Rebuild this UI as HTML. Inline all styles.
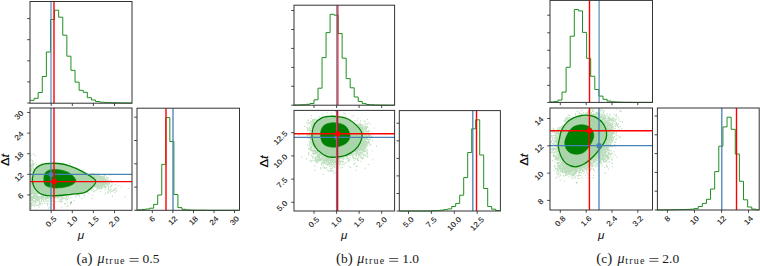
<!DOCTYPE html>
<html><head><meta charset="utf-8"><style>
html,body{margin:0;padding:0;background:#fff;width:760px;height:266px;overflow:hidden}
svg{display:block}
.tk{font-family:"Liberation Sans",sans-serif;font-size:7.6px;fill:#111;stroke:#111;stroke-width:0.08}
.ax{font-family:"Liberation Sans",sans-serif;font-size:11.6px;font-style:italic;fill:#111}
.ax2{font-family:"Liberation Sans",sans-serif;font-size:11.6px;fill:#000;stroke:#000;stroke-width:0.15}
.cap{font-family:"Liberation Serif",serif;font-size:13.5px;fill:#1a1a1a}
.mu{font-style:italic;font-size:14px}
.par{font-size:15px}
.sub{font-family:"Liberation Serif",serif;font-size:10px;letter-spacing:1.2px;fill:#1a1a1a}
</style></head><body>
<svg width="760" height="266" viewBox="0 0 760 266">
<path d="M30 100.3H34.09V98.3H38.19V92.5H42.28V76.5H46.38V52H50.47V19.5H54.56V10.2H58.66V17.2H62.75V35.2H66.85V56.2H70.94V70.3H75.03V82.1H79.13V90.3H83.22V92.3H87.32V97.7H91.41V100H95.5V101.5H99.6V102.2H103.69V102.4H107.79V102.6H111.88V102.7H115.97V102.8H120.07V102.9H124.16V102.9H128.26V103H132" stroke="#208f20" stroke-width="1.0" fill="none"/>
<line x1="51" y1="1.5" x2="51" y2="103.2" stroke="#4682b4" stroke-width="1.1"/>
<line x1="54" y1="1.5" x2="54" y2="103.2" stroke="#ff0000" stroke-width="1.4"/>
<clipPath id="ca"><rect x="30" y="108" width="102" height="102.3"/></clipPath>
<g clip-path="url(#ca)">
<path d="M31.83 178.7h0M35.68 199.43h0M32.09 197.54h0M34.59 188.71h0M56.33 198.75h0M31.12 199.96h0M37.92 198.01h0M30.8 184.63h0M68.17 196.2h0M34.58 192.68h0M41.62 162.96h0M36.44 193.06h0M52.7 196.04h0M56.93 195.96h0M74.13 200.5h0M75.55 196.94h0M31.97 191.75h0M51.51 196.57h0M31.33 182.9h0M31.71 192.23h0M32.6 189.39h0M36.91 195.28h0M70.32 194.64h0M51.07 201.48h0M37.64 196.84h0M32.31 186.38h0M31.8 183.11h0M38.68 197.23h0M69.99 163.62h0M32.28 184.98h0M45.77 198.31h0M35 189.15h0M54.17 197.48h0M36 193.32h0M47.47 196.94h0M31.07 187.15h0M31.03 185.25h0M45.55 197.34h0M36.26 190.6h0M36.19 193.53h0M40.81 203.43h0M62.2 195.99h0M32 181.32h0M48.78 198.27h0M55.27 197.45h0M47.5 196.52h0M32.21 180.04h0M33.01 192.15h0M35.55 189.92h0M30.06 192.33h0M32.22 189.19h0M32.66 183.53h0M40.98 204.94h0M31.8 181.51h0M66.19 197.25h0M31.42 184.03h0M31.51 196.73h0M35.93 193.57h0M42.87 196.99h0M34.98 191.61h0M37.65 199.54h0M40.09 193.59h0M34.97 192.05h0M67.11 206.24h0M31.31 193.18h0M38.58 192.98h0M33.71 190.23h0M43.61 195.51h0M30.8 192.66h0M39.69 198.15h0M33.9 191.24h0M35.51 199.19h0M56.94 195.87h0M61.82 196.02h0M30.06 184.66h0M35.18 192.15h0M32.91 164.86h0M52.73 200.92h0M33.19 188.93h0M31.13 187.1h0M63.51 195.61h0M37.11 193.32h0M32.96 184.46h0M31.53 193.87h0M36.7 192.27h0M45.25 203.29h0M39.31 199.87h0M41.72 195.79h0M58.09 196.88h0M65.79 203.29h0M32.97 174.59h0M61.81 199.34h0M47.89 198.4h0M32.52 193.11h0M52.8 204.89h0M31.27 200.38h0M39.2 193.41h0M37.62 192.9h0M79.8 196.97h0M32.31 192.94h0M38 196.06h0M33.33 189.5h0M71.82 197.44h0M34.1 194.13h0M56.04 197.07h0M57.77 197.62h0M32.43 185.31h0M53.23 204.34h0M61.92 197.35h0M32.08 188.23h0M60.23 195.7h0M33.74 188.67h0M65.96 197.1h0M31.05 194.76h0M36.8 193.06h0M32.55 183.13h0M33.06 186.52h0M44.37 202.06h0M60.95 202.1h0M31.86 190.05h0M48.66 207.97h0M33.81 196.29h0M56.12 197.05h0M52.28 196.05h0M35.84 193.98h0M77.73 195.25h0M37.66 193.32h0M35.78 195.53h0M32.79 165.12h0M51.52 198.55h0M49.86 207.03h0M31.05 182.85h0M45.9 200.66h0M47.9 201.11h0M58.36 201.56h0M61.24 200.97h0M58.31 197.62h0M33.41 186.17h0M44.91 195.96h0M50.26 199.04h0M31.85 180.55h0M45.48 196.2h0M66.84 198.41h0M70.79 195.31h0M32.5 192.02h0M31.82 192.93h0M31.22 169.42h0M33.02 196.63h0M32.71 160.61h0M33.95 204.32h0M34.05 187.07h0M32.01 175.96h0M31.45 191.5h0M30.06 182.94h0M30.46 182.72h0M36.24 197.38h0M31.49 179.61h0M30.65 182.01h0M32.58 190.08h0M32.39 197.87h0M30.88 183.06h0M32.86 186.81h0M31.34 185.43h0M30.82 193.88h0M32.95 202.95h0M32.02 173.55h0M31.28 183.26h0M31.39 192.03h0M31.54 203.08h0M30.61 184.67h0M30.65 198.6h0M30.48 169.77h0M31.01 175.53h0M32.24 179.4h0M30.32 184.77h0M31.68 187.65h0M34.5 206.13h0M31.85 176.27h0M31.13 182.38h0M30.32 198.03h0M33.74 194.22h0M31.5 184.66h0M31.96 189.39h0M30.23 194.76h0M31.32 184.66h0M33.84 192.69h0M30.17 173.65h0M30.9 185.65h0M32.87 164.81h0M31.38 170.85h0M32.82 199.94h0M32 179.08h0M31.74 188.33h0M30.31 173.44h0M30.26 182.21h0M30.75 181.27h0M30.51 174.23h0M33.52 195.08h0M34.25 164.38h0M31.77 192.23h0M30.96 174.58h0M32.78 184.92h0M31.48 165.54h0M30.08 184.16h0M32.15 163.3h0M34.61 192.07h0M33.21 161.83h0M30.08 168.52h0M32.49 164.91h0M31.4 194.6h0M33.61 169.74h0M30.25 185.46h0M30.73 154.26h0M30.81 191.1h0M33.18 188.85h0M33.49 153.86h0M30.02 198.27h0M30.56 163.79h0M30.7 181.11h0M31.15 198.12h0M33.29 163.65h0M30.59 161.04h0M30.84 169.91h0M30.58 170.33h0M31.37 181.87h0M31.01 177.11h0M30.79 177.44h0M30.09 177.6h0M32.92 173.01h0M33.57 187.49h0M30.4 183.44h0M31.79 171.01h0M31.13 205.81h0M32.04 167.9h0M30.85 192.49h0M31.5 174.36h0M30.15 187.92h0M30.77 189.92h0M31.32 194.09h0M33.7 200.97h0M32.3 173.27h0M34.24 188.6h0M30.77 173.7h0M30.94 167.05h0M31.3 203.9h0M31.87 183.56h0M32.14 193.13h0M30.93 199.95h0M30.5 178.67h0M30.24 183.44h0M30.54 194.18h0M30.18 184.16h0M30.1 168.83h0M33.84 193.17h0M35.88 162.74h0M32.89 174.72h0M30.66 199.11h0M31.79 186.84h0M32.26 186.79h0M31.58 185.23h0M31.13 196.58h0M31.65 159.99h0M30.1 186.92h0M30.22 146.3h0M30.22 158.74h0M30.65 203.33h0M35.83 196.65h0M30.48 178.2h0M32.12 182.97h0M31.28 184.94h0M30.91 196.18h0M30.77 174.4h0M30.35 173.06h0M32.24 176.16h0M32.02 185.56h0M31.17 187.1h0M31.9 179.02h0M31.18 193.19h0M31.66 171.31h0M30.82 182.92h0M32.4 171.5h0M30.06 198.91h0M30.71 179.94h0M32.96 171.5h0M31.02 184.35h0M32.44 171.56h0M31.06 191.17h0M31.41 194.29h0M30.98 196.45h0M30.81 170.87h0M31.58 206.5h0M31.48 181.24h0M30.77 199.39h0M30.81 202.61h0M36.95 166.94h0M31.39 198.75h0M35.06 193.13h0M31.58 194.65h0M33.91 204.64h0M31.34 189.55h0M30.11 184.87h0M32.34 191.41h0M31.64 179.68h0M34.61 189.99h0M30.53 159.22h0M31.8 205.13h0M32.71 190.54h0M32.1 187.73h0M30.85 185.18h0M30.21 185.27h0M31.98 184.69h0M34.11 163.79h0M30.1 177.19h0M34.76 198.54h0M30.14 171.35h0M30.64 170.94h0M30.09 209.83h0M32.9 198.69h0M32.48 203.04h0M30.77 183.72h0M30.51 187.17h0M31.92 193.21h0M32.07 190.76h0M31.31 165.91h0M31.36 174.84h0M30.51 165.34h0M31.68 203.08h0M32.06 178.86h0M30.09 187.21h0M30.59 183.92h0M30.6 190.16h0M30.32 176.04h0M30.08 165h0M35.8 205.09h0M32.06 174.91h0M30.46 177.79h0M32.01 173.86h0M32.2 183.8h0M35 192.69h0M30.39 170.66h0M31.38 187.06h0M31.18 175.27h0M31.35 198.17h0M33.77 168.44h0M30.37 184.69h0M30.08 192.16h0M33.08 166.85h0M30.28 173.67h0M30.17 180.75h0M34.74 195.45h0M30.08 178.31h0M31.15 180.81h0M32.38 188.78h0M33.1 198.76h0M30.58 192.99h0M32.37 192.2h0M31.52 202.32h0M36.47 164.52h0M33.22 165.83h0M30.78 155.67h0M32.21 193.37h0M35.41 155.46h0M30.18 192.36h0M38.2 166.27h0M31.67 175.18h0M37.19 192h0M32.21 164.77h0M30.19 187.01h0M33.85 191.58h0M31 184.86h0M30.3 185.03h0M30.61 198.22h0M32.67 185.79h0M30.79 182.83h0M30.42 179.05h0M33.29 190.96h0M31.54 179.6h0M30.41 190.98h0M30.31 196.71h0M30.12 173.53h0M31.22 183.97h0M32.16 187.28h0M30.16 188.05h0M31.41 196.71h0M34.37 187.81h0M34.82 193.97h0M30.78 206.7h0M32.21 193.22h0M33.19 170.31h0M31.73 165.86h0M30.03 178.51h0M32.78 186.55h0M30.28 198.79h0M33.12 197.49h0M31.48 169.48h0M30.97 186.33h0M32.23 167.28h0M30.2 190.83h0M31.14 181.31h0M30.3 188.37h0M31.56 199.01h0M30.46 196.31h0M31.68 178.13h0M33.53 168.81h0M30.03 198.04h0M31.81 183.56h0M31.07 178.5h0M32.14 184.23h0M32.15 179.63h0M30.36 186.44h0M31.99 168.58h0M32.97 161.66h0M31.55 175.98h0M31.09 180.41h0M32.32 173.49h0M30.26 170.89h0M32.57 171.6h0M30.15 181.4h0M32.17 163.23h0M30.56 176.2h0M32.04 187.04h0M31.39 181.27h0M30.23 166.42h0M30.54 178.45h0M30.51 203.99h0M38.94 200.5h0M49.82 196.87h0M37.9 196.47h0M35.87 201.61h0M32.11 199.67h0M37.86 200.36h0M40.79 196.52h0M40.03 196.92h0M31.72 202.37h0M38.33 198.96h0M36.9 199.67h0M47.33 197.68h0M38.74 200.77h0M34.19 197.21h0M43.48 196.85h0M36.51 196h0M34.34 198.21h0M32.61 197.88h0M32.09 196.53h0M41.82 196.52h0M35.78 202.56h0M32.07 196.63h0M30.72 207.1h0M30.25 207.35h0M42.55 197.83h0M37.09 197.39h0M39.05 203.09h0M42.04 199h0M46.85 201.19h0M33.57 197.81h0M48.53 197.91h0M34.02 201.48h0M33.96 198.35h0M46 197.5h0M32.25 196.28h0M35.92 200.76h0M30.62 200.62h0M35.34 203.27h0M33.36 197.82h0M43.86 197.53h0M30.99 199.51h0M31.32 197.58h0M30.11 199h0M37.6 201h0M32.99 205.27h0M33.61 198.08h0M50.23 199.55h0M42.38 203.52h0M31.47 205.8h0M41.5 198.1h0M35.67 201.93h0M34.19 201.18h0M39.7 204.35h0M58.31 198.29h0M33.21 197.29h0M31.56 197.89h0M34.47 201.74h0M30.74 207.73h0M34.75 198.07h0M42.88 197.79h0M41.98 196.07h0M31.38 204.01h0M45.13 198.81h0M36.09 196.94h0M33.03 200.51h0M37.73 197.8h0M52.36 197.72h0M45.72 197.77h0M38.88 198.83h0M31.17 208.34h0M51.79 198.89h0M38.75 199.16h0M42.45 198.95h0M35.69 210.17h0M48.38 201.35h0M36.74 198.97h0M54.12 207.39h0M32.89 199.56h0M38.59 199.34h0M48.7 198.37h0M41.38 197.36h0M46.51 198.97h0M53.24 196.89h0M42.82 197.96h0M44.72 199.02h0M50.14 199.89h0M39.51 204.69h0M35.53 200.51h0M32.74 199.27h0M38.88 196.74h0M35.29 200.62h0M43.57 200.92h0M54.34 206.69h0M37.37 197.37h0M40.39 203h0M36.5 199.97h0M41.52 201.11h0M33.07 197.98h0M35.44 196.94h0M32.89 199.34h0M31.85 200.39h0M47.55 204.94h0M33.35 202.06h0M30.89 196.57h0M33.04 196.97h0M35.93 199.62h0M36.3 205.14h0M37.98 204.92h0M37.82 199.03h0M34.4 196.77h0M39.82 201.84h0M39.37 199.97h0M40.4 198.57h0M41.64 196.8h0M30.77 204.77h0M41.98 197.07h0M60.07 196.15h0M39.26 202.29h0M39.13 206.9h0M37.94 205.55h0M35.35 199.09h0M57.64 197.92h0M31.6 203.97h0M41.63 201.54h0M36.19 198.23h0M98.94 179.98h0M101.27 174.8h0M104.13 179.96h0M98.29 183.63h0M97.03 178.75h0M100.44 181.86h0M98.37 182.59h0M96.29 183.18h0M97.92 184.87h0M97.22 181.69h0M99.41 184.22h0M98.44 182.54h0M98.28 180.27h0M97.44 185.32h0M99.91 179.95h0M95.87 181.94h0M102.12 187.84h0M98.85 179.37h0M99.9 182.26h0M96.19 181.12h0M103.56 177.6h0M97.45 182.06h0M94.29 177.47h0M99.43 182.46h0M98.43 183.69h0M100.56 187.27h0M106.61 177.2h0M97.98 178.4h0M98.56 178.91h0M97.74 183.78h0M97.88 180.62h0M101.17 179.98h0M100.33 178.57h0M96 180.36h0M103.79 181.22h0M93.97 177.78h0M101.14 181.29h0M104.82 182.96h0M100.75 182.39h0M99.06 178.26h0M103.73 183.62h0M99.48 183.58h0M97.96 182.27h0M97.15 178.31h0M102.82 177.67h0M100.92 181.6h0M104.49 178.83h0M96.59 178.02h0M96.69 183.81h0M96.17 183.86h0M99.18 183.16h0M95.09 184.89h0M101.89 183.84h0M99.42 178.49h0M104.04 185.56h0M97.74 182.64h0M98.62 185.58h0M96.21 181.64h0M99.65 180.51h0M98.27 181.33h0M100.95 181.18h0M99.98 180.11h0M97.46 175.7h0M92.61 175.92h0M101.33 183.33h0M96.8 179.01h0M97.9 185.06h0M97.67 179.64h0M96.02 182.43h0M94.94 177.74h0M95.5 179.84h0M99.03 183.01h0M97.25 185.87h0M102.26 184h0M102.91 181.51h0M97.68 181.06h0M97.3 179.84h0M94.55 185.6h0M101.76 184.4h0M97.08 185.13h0M100.99 178.74h0M101.46 186.11h0M95.88 185.89h0M96.98 182.27h0M96.53 185.95h0M102.3 182.15h0M98.54 184.5h0M98.69 183.2h0M101.01 179.26h0M97.67 182.18h0M106.57 181.07h0M103.26 178.5h0M103.89 179.47h0M101.62 184.46h0M99.17 176.4h0M101.65 181.7h0M99.02 178.25h0M96.61 179.43h0M103.96 184.64h0M97.43 181.04h0M102.27 183.94h0M102.69 186.08h0M99.05 180.01h0M99.44 186.21h0M104 180.05h0M97.48 177.11h0M93.22 176.97h0M97.32 183.3h0M101.21 181.34h0M95.48 178.83h0M107.26 179.71h0M98.35 177.72h0M95.78 178.2h0M98.14 186.56h0M100.25 179.12h0M102.07 183.25h0M95.55 185.4h0M102.21 179.84h0M96.78 181.22h0M99.21 178.23h0M94.89 177.35h0M94.64 185.09h0M91.7 190.41h0M98.92 179.57h0M96.81 177.27h0M96.94 185.19h0M95.34 185.33h0M99.97 180.62h0M99.26 182.22h0M99.23 180.68h0M105.38 182.74h0M98.44 180.88h0M106.49 182.68h0M99.82 181.92h0M103.59 176.35h0M102.93 177.78h0M99.02 177.17h0M96.59 183.61h0M102.75 184.73h0M100.06 183.34h0M103.44 180.93h0M98.82 176.08h0M99.04 180.8h0M95.6 180.54h0M95.88 183.4h0M96.1 179.85h0M103.2 182.98h0M99.86 179.89h0M95.24 185.27h0M96.21 184.48h0M102.07 186.41h0M99.58 181.35h0M98.8 182.05h0M96.15 182.64h0M101.73 180.71h0M96.6 179.81h0M96.24 179.82h0M101.15 180.71h0M106.76 177.83h0M100.42 181.64h0M101.87 185.81h0M98.71 176.28h0M98.88 179.31h0M104.22 183.52h0M98.01 181.71h0M97.69 181.17h0M96.14 181.66h0M104.04 178.87h0M100.76 184.58h0M99.4 178.8h0M98.72 181.14h0M101.5 185.49h0M95.9 184.33h0M102.94 179.96h0M100.08 180.22h0M100.65 180.9h0M98.13 184.99h0M104.93 180.39h0M103 182.64h0M96.04 180.8h0M98.32 181.95h0M96.72 181.79h0M99.74 180.31h0M95.47 175.97h0M100.31 183.5h0M103.33 180.24h0M101.01 181.09h0M97.69 182.29h0M99.61 179.03h0M96.51 183.4h0M102.78 183.76h0M99.84 183.94h0M94.32 176.65h0M101.5 182.91h0M97.35 180.43h0M100.97 184.44h0M95.69 183.68h0M99.27 181.35h0M99.17 188.81h0M100.23 181.44h0M97.86 178.88h0M97.07 184.09h0M99.88 177.84h0M101.53 186.55h0M96.55 185.02h0M97.05 184.29h0M98.57 182.64h0M102.15 178.2h0M100.14 183.06h0M95.72 179.85h0M96.77 179.58h0M95.75 183.52h0M96.48 181.62h0M96.77 179.09h0M96.08 178.66h0M100.12 179.35h0M102.11 179.72h0M109.85 183.9h0M98.36 179.64h0M98.66 182.35h0M100.76 178.64h0M98.49 181.99h0M97.49 181.16h0M97.74 183.48h0M102.93 180.48h0M98.62 182.42h0M96.83 175.64h0M103.71 176.79h0M100.47 182.8h0M103.18 181.55h0M106.23 181.09h0M104.84 180.34h0M97.59 181.79h0M101.15 183.22h0M98.69 182.37h0M102.37 178.81h0M99.71 182.1h0M101.48 178.51h0M102.4 179.76h0M103.84 181.87h0M102.27 181.79h0M97.58 184.3h0M98.32 183.75h0M99.68 182.74h0M97.46 180.65h0M96.98 181.45h0M105.72 180.86h0M100.01 185.94h0M105.87 182.67h0M97.8 179.32h0M96.16 184.68h0M96.35 179.26h0M96.77 182.44h0M97.47 181.95h0M96.17 184.23h0M105.49 179.25h0M100.8 182.68h0M95.72 183.55h0M101.09 184.99h0M100.25 181.77h0M101.84 183.76h0M96.03 181.99h0M105.17 178.99h0M97.14 177.45h0M102.1 177.26h0M97.39 183.64h0M98.27 180.25h0M95.63 178.75h0M97.94 183.49h0M97.37 183.61h0M99.18 184.76h0M96.71 180.8h0M96.59 178.06h0M96.7 184.47h0M100.62 181.49h0M101.38 181.16h0M107.85 180.6h0M101.03 184.34h0M104.82 179.92h0M100.47 183.83h0M96.41 182.28h0M100.06 178.96h0M93.14 177.83h0M99 179.54h0M97.54 181.45h0M93.61 178.23h0M103.08 183.16h0M102.65 184.47h0M99.92 182.95h0M101.39 177.2h0M104.85 175.51h0M97.45 183.78h0M100.91 182.89h0M98.96 180.86h0M103.51 184.11h0M98.91 180.13h0M104.73 183.74h0M102.72 185.98h0M96.21 181.24h0M98.42 186.37h0M94.97 178.17h0M96.79 181.58h0M100.12 188.16h0M103.74 181.66h0M100.96 185.74h0M98.21 177.6h0M97.14 182.69h0M102.76 179.58h0M96.59 185.12h0M103.81 181.28h0M96.69 183.77h0M101.28 178.7h0M92.02 175.99h0M97.32 182.15h0M98.11 178.57h0M96.99 180.74h0M100.25 187.41h0M100.37 180.9h0M99.23 184.87h0M98.98 182.08h0M102.37 178.95h0M104.21 182.7h0M96.87 184.45h0M104.16 179.15h0M102 178.62h0M96.84 180.4h0M99.34 175.95h0M102.39 180.01h0M96.06 179.64h0M100.74 184.83h0M100.14 180.21h0M94.39 177.31h0M99.94 179.44h0M99.11 183.01h0M101.97 181.99h0M98.21 184.26h0M103.05 181.57h0M102.95 181.13h0M104.07 178.79h0M101.73 181.39h0M104.06 182.61h0M99.58 180.6h0M102.07 182.81h0M97.48 179.14h0M97.12 184.79h0M97.16 182.53h0M104.82 186.13h0M99.29 181.15h0M97.3 180.2h0M100.11 180.29h0M98.19 178.8h0M98.8 181.54h0M102.28 181.33h0M101.17 179.81h0M98.16 180.5h0M99.05 178.97h0M98.53 181.88h0M101.15 178.01h0M101.04 185.91h0M98.74 181.58h0M101.68 178.37h0M101.92 182.4h0M99.77 184.06h0M96.52 183.77h0M97.95 184.49h0M102.11 177.61h0M95.07 184.99h0M102.39 178.38h0M96.78 178.92h0M100.72 179.57h0M100.74 182.75h0M95.9 177.93h0M96.81 179.25h0M98.48 186.33h0M96.47 179.5h0M101.08 184.01h0M97.18 183.8h0M110.08 174.92h0M100.71 180.24h0M94.95 184.59h0M98.1 179.44h0M99.52 186.26h0M99.76 182.15h0M99.96 178.32h0M99.99 182.98h0M97.51 186.59h0M100.81 179.75h0M107.25 182.96h0M96.25 179.2h0M96.5 179.98h0M101.06 181.81h0M103.31 182.85h0M101.51 182.43h0M103.19 182.06h0M97.89 187.8h0M97.13 178.68h0M100.83 176.64h0M100.91 182.97h0M105.09 182h0M104.61 177.75h0M101.34 179.68h0M95.29 177.82h0M99.72 183.19h0M97.37 187.68h0M96.62 177.49h0M97.17 180.37h0M97.61 179.66h0M98.53 177.43h0M97.41 180.34h0M99.3 183.37h0M97.76 183.58h0M98.6 182.6h0M102.08 180.22h0M98.66 180.6h0M95.93 181.64h0M98.73 188.85h0M96.44 181.1h0M97.75 180.06h0M96.66 184.51h0M96.88 175.85h0M95.61 183.7h0M99.05 182.62h0M96.55 178.04h0M104.21 182.48h0M100.83 178.53h0M104.55 178.15h0M103.62 182.83h0M96.12 179.43h0M97.71 180.59h0M102.92 178.78h0M101.05 183.13h0M100.48 187.43h0M100.78 181.01h0M99.93 184.05h0M98.88 183.56h0M99.16 178.2h0M103.07 177.94h0M93.63 175.93h0M98.02 181.65h0M102.86 182.22h0M99.01 182.77h0M97.15 182.72h0M101.5 185.05h0M98.48 180.67h0M97.09 181.14h0M96.14 184.07h0M99.85 179.57h0M106.85 183.46h0M95.52 184.49h0M98.05 179.8h0M96.42 179.05h0M99.17 183.86h0M94.51 186.55h0M100.49 182.28h0M97.75 180.54h0M94.28 178.39h0M96.77 182.92h0M101.45 180.83h0M103.97 181.13h0M102.9 174.78h0M98.26 181.41h0M99.54 182.42h0M102.09 181.23h0M101.62 181.68h0M96.08 186.3h0M105.09 183.12h0M104.89 181.42h0M101.21 178.04h0M100.19 180.33h0M95.82 177.96h0M105.32 181.29h0M103.89 184.37h0M101.81 184.32h0M97.58 183.95h0M96.6 181.62h0M97.71 184.17h0M103.62 180.85h0M94.12 176.41h0M98.56 181.92h0M104.9 181.66h0M101.77 176.97h0M105.36 180.17h0M99.83 175.12h0M99.89 180.31h0M103.88 184.75h0M100.84 179.86h0M99.55 185.02h0M96 182.16h0M104.35 176.88h0M96.4 183.54h0M101.77 177.65h0M95.79 179.59h0M97.91 182.6h0M99.31 176.42h0M100.31 179.13h0M102.22 183.47h0M97.7 178.44h0M99.71 177.76h0M97.73 177.89h0M99.87 177.41h0M99.67 181.26h0M105.91 183.03h0M100.69 185.59h0M100.69 185.81h0M97.16 183.04h0M104.76 180.97h0M95.46 185.56h0M95.47 185.5h0M98.71 183.55h0M97.67 181.32h0M98.97 182h0M104.3 182.24h0M104.25 186.34h0M96.56 178.4h0M100.12 181.36h0M94.62 178.68h0M103.3 184.49h0M101.02 185.13h0M96.84 180.63h0M96.67 181.7h0M102.03 183.59h0M99.56 182.05h0M96.83 182.34h0M99.4 182.09h0M98.19 182.29h0M96.54 181.27h0M102.06 177.72h0M96.28 180.47h0M93.35 178.07h0M105.72 181.34h0M103.4 179.65h0M100.4 182.99h0M97.97 184.89h0M99.05 178.31h0M98.16 182.44h0M99.37 185.37h0M97.4 183.61h0M100.03 182.74h0M98.97 180.41h0M98.1 182.9h0M96.55 177.36h0M98.27 179.34h0M95.72 180.59h0M102.01 178.52h0M102.04 177.83h0M101.18 180.77h0M104.07 183.71h0M100.36 184.75h0M98.43 180.01h0M101.3 179.53h0M98.2 177.02h0M98.46 184.52h0M98.18 183.45h0M97.03 179.6h0M95.18 176.98h0M96.31 182.28h0M100.25 184.63h0M102.26 186.43h0M95.99 182.18h0M102.48 180.99h0M101.26 180.77h0M93.59 177.97h0M99.06 179.21h0M94.06 177.24h0M95.81 178.11h0M103.89 184.76h0M95.31 179.79h0M100.61 183.66h0M98.69 184.44h0M99.29 181.58h0M99.33 183.74h0M100.63 181.09h0M98.23 181.28h0M99.48 181.75h0M99.52 181.75h0M101.03 184.35h0M96.9 180.48h0M101.3 184h0M102.49 178.96h0M95.43 185.44h0M102.11 181.75h0M103.55 180.91h0M103.36 180.25h0M102.94 180.13h0M99.54 180.66h0M99.93 180.44h0M96.03 182.64h0M97.25 181.05h0M96.36 179.64h0M96.45 189.98h0M96.87 181.08h0M97.22 178.52h0M95.19 179.67h0M97.67 184.81h0M96 178.73h0M98.02 178.81h0M99.2 181.46h0M105.33 179.7h0M104.97 182.01h0M97.03 183.87h0M101.57 185.06h0M101.77 180.68h0M99.44 176.76h0M95.68 178.97h0M95.28 184.4h0M100.01 180.36h0M98.65 179.76h0M101.07 180.43h0M98.01 185.77h0M95.9 181.76h0M100.22 180.63h0M101.49 178.75h0M98.23 188.98h0M96.67 180.79h0M103.74 178.99h0M101.99 176.6h0M97.54 182.49h0M104.99 187.52h0M99.66 181.42h0M102.92 179.57h0M99.31 181.86h0M100.93 179.9h0M96.5 184.49h0M95.84 181.92h0M96.08 180.27h0M104.92 182.59h0M96.33 183.36h0M103.53 179.49h0M104.24 183.28h0M106.57 181.89h0M102.58 183.58h0M105.5 180.46h0M100.83 182h0M101.54 188h0M99.76 176.71h0M97.66 185.58h0M98.8 184.69h0M97.58 184.55h0M96.93 179.47h0M100.43 184.71h0M98.1 184.92h0M96.99 181.06h0M96.84 185.04h0M96.72 180.7h0M103.35 182.34h0M94.04 178.1h0M96.13 183.16h0M98.07 182.06h0M101.32 177.59h0M99.92 182.84h0M98.07 184.8h0M107 182.3h0M97.94 178.17h0M99.35 180.06h0M109.39 183.84h0M94.3 178.24h0M102.02 180.67h0M99.85 184.64h0M95.41 180.12h0M101.48 183.75h0M97.23 182.68h0M101.89 178.16h0M97.02 177.42h0M99.12 180.98h0M95.22 176.91h0M95.44 184.02h0M96.54 174.67h0M100.64 181.17h0M98.32 182.48h0M106.22 180.22h0M100.3 182.66h0M99.16 182.94h0M107.37 184.38h0M97.54 188.71h0M98.64 179.27h0M100.15 178.39h0M103.69 183.49h0M100.66 182.52h0M96.3 182.85h0M97.4 182.15h0M100.02 185.81h0M102.92 184.5h0M96.33 184.28h0M96.27 179.84h0M102.53 180.78h0M98.92 178.21h0M99.44 179.92h0M100.02 181.86h0M94.78 178.42h0M97.39 179.95h0M102.44 186.92h0M97.36 181.14h0M97.19 177.69h0M99.26 178.35h0M99.64 181.4h0M108.61 183.84h0M98.6 183.9h0M106.43 182.45h0M98.16 178.7h0M99.6 184.33h0M102.08 186.57h0M101.66 180.08h0M101.45 181.25h0M97.27 180.2h0M99.57 180.93h0M97.75 182.83h0M101.57 181.14h0M97.97 184.74h0M101.31 182.75h0M96.66 181.82h0M97.41 184.79h0M101.25 181.27h0M96.95 188.3h0M107.83 185.62h0M96.62 181.14h0M95.93 181.21h0M96.07 182.41h0M106.49 180.09h0M96.93 186.04h0M101.83 183.68h0M97.54 187.92h0M100.26 182.94h0M97.31 186.97h0M95.88 182.68h0M97.24 183.34h0M98.14 179.21h0M101.5 181.91h0M103.05 185.45h0M97.21 181.72h0M98.03 179.77h0M101 179.94h0M102.47 177.94h0M95.24 184.61h0M106.62 184.57h0M99.09 181.42h0M102.02 181.08h0M99.17 186.97h0M99.21 178.23h0M96.75 180.47h0M98.68 183.8h0M97.37 178.38h0M100.88 182.39h0M103.26 179.55h0M104.38 180.77h0M103.24 178.53h0M97.4 183.08h0M105.19 180.42h0M99.11 180.16h0M101.58 184.58h0M97 182.62h0M92.19 187.89h0M98.79 181.93h0M97.99 188.92h0M101.75 184.98h0M99.1 180.37h0M99.54 183.46h0M96.88 180.41h0M95.82 180.27h0M97.66 185.27h0M99.82 183.68h0M101.97 181.83h0M95.69 175.4h0M99.75 181.28h0M98.79 181.17h0M100.94 183.11h0M104.41 186.3h0M100.77 183.7h0M100.98 177.15h0M101.33 181.77h0M96.23 181.09h0M97.99 183.58h0M99.45 181.54h0M103.19 176.69h0M103.42 179.32h0M107.5 180.85h0M93.45 176.32h0M97.84 181.36h0M95.77 184.48h0M102.89 180.03h0M101.17 181.33h0M99.41 184.21h0M101.1 179.15h0M105.27 175.73h0M101.48 188.88h0M98.54 183.64h0M97.63 181.75h0M100.63 188h0M99.28 178.64h0M96.02 179.56h0M102.42 182.92h0M96.88 183.69h0M101.35 180.71h0M97.78 185.05h0M102.75 182.85h0M93.33 177.26h0M101.2 181.54h0M98.5 187.52h0M103.03 181.89h0M93.99 178.53h0M97.54 186.42h0M99.07 183.47h0M96.03 185.75h0M99.53 180.54h0M100.6 178.84h0M97.59 182.36h0M102.36 177.96h0M95.54 179.04h0M98.86 181.2h0M93.97 177.56h0M99.59 176.14h0M97.59 185.36h0M96.05 180.15h0M100.43 181.1h0M100.25 183.16h0M96.67 179.85h0M98.59 180.41h0M100.05 185.85h0M95.73 184.92h0M98.53 186h0M100.85 176.62h0M108.74 187.65h0M110.94 186.81h0M108.19 181.34h0M93.45 189.51h0M104.8 184.61h0M107.88 178.27h0M104.66 182.67h0M108.38 181.24h0M109.94 190.47h0M116.52 191.09h0M108.07 191.54h0M125.2 197.05h0M107.97 182.96h0M108.46 178.17h0M112 182.5h0M105.92 186.77h0M104.13 174.2h0M115.3 184.4h0M121.29 187.32h0M111.73 182.57h0M110.34 192.81h0M108.65 193.32h0M108.5 181.59h0M99.73 180.76h0M104.46 185.44h0M99.18 186.78h0M114.74 188.43h0M111.06 188.72h0M108.23 189.59h0M109.3 190.7h0M105.58 192.76h0M98.3 184.84h0M118.7 185.81h0M111.18 186.12h0M105.3 194.26h0M110.77 189.72h0M115.63 190.07h0M114.98 192.48h0M111.28 191.42h0M112.46 196.09h0M104.93 182.26h0M116.22 188.19h0M113.35 189.89h0M113.36 190.15h0M97.29 182.61h0M111.16 180.07h0M111.34 185.45h0M112.29 183.94h0M93.18 187.75h0M108.52 188.79h0M99.74 179.96h0M109.26 183.14h0M105.83 186.29h0M112.63 191.2h0M102.45 184.67h0M98.83 185.16h0M110.17 180.22h0M104.43 183.28h0M97.99 180.95h0M128.9 188.28h0M103.79 181.55h0M104.63 180.85h0M99.04 181.57h0M105.19 189.7h0M108.68 186.38h0M111.91 185.26h0M100.95 188.03h0M109.78 181.19h0M114.58 190.37h0M102.64 181.83h0M105.81 188.1h0M100.43 180.53h0M96.37 176.27h0M111.11 186.26h0M104.99 186.95h0M117.73 181.67h0M107.65 192.5h0M99.92 182.78h0M93.72 191.68h0M102.32 185.41h0M105.93 183.59h0M91.6 175.73h0M94.71 191.7h0M95.05 190.55h0M108.27 180.45h0M79.17 195.56h0M75.9 195.76h0M91.59 188.98h0M64.61 198.19h0M100.69 191.59h0M83.35 169.79h0M103.14 182.82h0M104.84 186.63h0M87.02 192.8h0M102.81 182.23h0M102.04 184.81h0M84.24 196.17h0M91.65 198.55h0M91.95 188.31h0M95.36 185.92h0M92.75 194.81h0M101.31 188.16h0M88.95 193.18h0M84.51 195.41h0M81.95 198.54h0M89.47 175.47h0M69.22 197.85h0M97.98 179.24h0M92.92 177.39h0M100.1 181.08h0M97.92 186.13h0M95.08 178.09h0M103.02 183.29h0M97.23 182.76h0M101 179.54h0M97.81 184.97h0M97.41 180.46h0M99.79 185.53h0M95.65 177.11h0M95.76 179.93h0M97.08 180.27h0M96.71 184.27h0M96.15 182.64h0M94.23 177.72h0M93.05 174.41h0M90.9 174.84h0M92.46 175.36h0M96.44 178.36h0M96.62 182.76h0M96.47 180.05h0M96.58 182.02h0M96.52 186.04h0M93.62 175.01h0M97.95 181.76h0M89.83 174.4h0M94.87 177.94h0M95.54 174.62h0M94.28 174.69h0M103.58 182.84h0M97.89 175.34h0M99.48 183.27h0M93.74 173.47h0M97.23 178.74h0M94.74 174.71h0M98.65 182.36h0M101.86 178.96h0M99.03 181.65h0M98.8 185.33h0M97.65 180.85h0M91.23 175.25h0M97.11 182.1h0M99.09 184.64h0M97.45 181.91h0M96.69 183.34h0M98.92 181.37h0M99.64 179.82h0M102.27 182.88h0M99.09 181.87h0M96.98 180.87h0M91.52 176.23h0M102.01 180.91h0M91.15 174.34h0M99.78 176.97h0M97.11 185.19h0M96.27 186.26h0M93.43 176.63h0M90.16 175.28h0M98 176.25h0M99.52 187.95h0M98.96 186.52h0M97.11 182.1h0M98.31 182.01h0M95.55 183.23h0M99.97 182.06h0M91.1 173.74h0M97.29 179.57h0M101.58 186.63h0M96.62 185.23h0M96.87 185.55h0M99.62 175.37h0M100.94 181.95h0M99.61 180.92h0M100.47 179.55h0M94.26 185.51h0M97.08 181.49h0M101.64 183.08h0M94.03 173.75h0M95.99 178.58h0M98.43 182.91h0M99.48 186.44h0M102.98 184.8h0M94.07 176.17h0M96.85 177.05h0M98.75 181.58h0M98.21 183.34h0M98.69 177.63h0M101.22 181.92h0M100.23 182.13h0M103.97 187.43h0M99.43 185.46h0M98.59 183.06h0M95.62 178.18h0M99.29 179.33h0M92.66 177.23h0M91.74 176.65h0M99.76 180.54h0M95.2 177.79h0M99.57 180.94h0M100.57 181.3h0M101.14 178.63h0M96.29 175.28h0M98.9 178.11h0M96.35 187.19h0M103.76 179.39h0M92.58 173.83h0M95.61 176.21h0M97.25 180.23h0M99.15 180.39h0M94.67 178.11h0M94.33 177.52h0M95.18 185.83h0M95.78 184.24h0M99.68 179.85h0M99.12 179.43h0M91.4 175.56h0M98.37 179.1h0M99.78 177.9h0M102.63 181.79h0M95.43 187.18h0M95.23 179.32h0M92.49 174.48h0M101.65 182.58h0M103.41 181.49h0M99.77 178.55h0M101.48 181.21h0M97.49 177.42h0M97.25 183.21h0M100.1 178.64h0M101.34 182.93h0M103.06 184.31h0M103.96 184.05h0M96.08 179.63h0M93.89 175.22h0M91.7 176.24h0M96.5 176.59h0M92.27 175.03h0M94.04 175.17h0M100.66 182.92h0M98.29 176.36h0M95.91 183.67h0M94.23 175.5h0M95.35 179.34h0M101.53 185.1h0M97.01 178.8h0M100 182.31h0M101.77 184.55h0M95.89 174.93h0M90.92 176.31h0M95.73 186.33h0M96.78 176.83h0M93.6 173.96h0M97.24 183.13h0M91.26 173.67h0M101.29 177.71h0M96.81 183.43h0M100.13 183.83h0M97.78 173.89h0M100.88 177.15h0M100.99 180.22h0M95.67 184.51h0M98.58 181.59h0M99.1 178.13h0M97.27 180.13h0M100.03 187.83h0M91.4 175.01h0M96.08 181.65h0M98.18 182.3h0M90.49 175.37h0M92.54 173.69h0M94.48 186.8h0M97.64 173.77h0M96.76 181.93h0M91.36 175.6h0M98.07 182.71h0M95.93 175.29h0M97.24 180.33h0M98.28 178.98h0M89.56 175.56h0M95.98 178.68h0M94.64 176.76h0M100.54 185.26h0M91.03 175.52h0M91.75 175.57h0M99.97 182.99h0M97.93 180.04h0M100.35 184.49h0M98.54 180.19h0M96.09 177.73h0M90.19 174.63h0M101.37 179.99h0M98.66 185.77h0M97.16 177.71h0M101.66 180.47h0M102.08 184.27h0M99.81 180.11h0M101.97 180.05h0M94.85 178.1h0M98.14 179.76h0M95.88 183.34h0M92.02 175.08h0M67.61 202.28h0M54.68 201.2h0M64.78 198.38h0M64.16 195.98h0M64.31 195.28h0M37.38 197.44h0M50.28 199.71h0M46.76 197.93h0M50.67 198h0M68.03 205.71h0M54.91 197.36h0M46.18 196.11h0M32.9 193.82h0M55.95 202h0M64.35 198.27h0M49.46 197h0M66.52 200.14h0M61.8 197.56h0M70.48 204.21h0M43.46 195.93h0M60.61 199.08h0M54.61 197.86h0M64.6 203.87h0M61.76 206.94h0M54.07 197.93h0M62.26 198.56h0M67.43 199.39h0M61.07 196.27h0M53.19 197.53h0M59.82 200h0M47.52 205.19h0M59.99 201.36h0M60.88 197.28h0M37.42 193.35h0M62.39 198.15h0M58.55 197.98h0M58.85 197.71h0M59.97 199.68h0M37.17 196.49h0M34.7 192.89h0M63.6 198.04h0M43.24 195.91h0M38.1 193.73h0M63.8 197.94h0M62.79 198.59h0M70.35 203.67h0M52.97 197.84h0M60.13 199.62h0M44.19 195.82h0M34.76 195.41h0M41.51 199.65h0M45.76 199.75h0M47.55 196.64h0M47.16 203.5h0M33.34 197.21h0M68.62 197.6h0M37.05 194.52h0M58.62 196.93h0M63.66 198.49h0M42.26 196.19h0M43.56 199.67h0M43.97 197.76h0M61.81 200.95h0M65.5 199.21h0M62.29 201.49h0M59.17 196.8h0M49.37 203.76h0M66.85 196.57h0M37.86 200.31h0M41.46 195.98h0M47.41 203.64h0" stroke="#008000" stroke-opacity="0.26" stroke-width="1.1" stroke-linecap="square" fill="none"/>
<circle cx="71.1" cy="202.4" r="0.9" fill="#008000" fill-opacity="0.5"/>
<path d="M32.4 178.5C32.65 175.98 33.52 171.95 34.7 169.8C35.88 167.65 37.65 166.62 39.5 165.6C41.35 164.58 42.65 164.05 45.8 163.7C48.95 163.35 54.45 163.13 58.4 163.5C62.35 163.87 65.55 164.58 69.5 165.9C73.45 167.22 77.75 168.95 82.1 171.4C86.45 173.85 94.22 177.7 95.6 180.6C96.98 183.5 92.38 186.77 90.4 188.8C88.42 190.83 86.92 191.88 83.7 192.8C80.48 193.72 76.1 193.78 71.1 194.3C66.1 194.82 58.45 195.83 53.7 195.9C48.95 195.97 45.5 195.62 42.6 194.7C39.7 193.78 37.87 192.03 36.3 190.4C34.73 188.77 33.85 186.88 33.2 184.9C32.55 182.92 32.15 181.02 32.4 178.5Z" fill="#aad4aa" stroke="#008000" stroke-width="1.3"/>
<path d="M43.9 177.7C44.03 175.33 44.7 172.78 46.6 171.4C48.5 170.02 51.75 169.27 55.3 169.4C58.85 169.53 64.48 170.42 67.9 172.2C71.32 173.98 75.4 177.87 75.8 180.1C76.2 182.33 73.45 184.28 70.3 185.6C67.15 186.92 60.98 188 56.9 188C52.82 188 47.97 187.32 45.8 185.6C43.63 183.88 43.77 180.07 43.9 177.7Z" fill="#008000" stroke="#008000" stroke-width="0.6"/>
</g>
<line x1="51" y1="108" x2="51" y2="210.3" stroke="#4682b4" stroke-width="1.3"/>
<line x1="30" y1="174.4" x2="132" y2="174.4" stroke="#4682b4" stroke-width="1.3"/>
<circle cx="51" cy="174.4" r="2.5" fill="#4682b4"/>
<line x1="54" y1="108" x2="54" y2="210.3" stroke="#ff0000" stroke-width="1.4"/>
<line x1="30" y1="181.6" x2="132" y2="181.6" stroke="#ff0000" stroke-width="1.4"/>
<circle cx="54" cy="181.6" r="2.8" fill="#ff0000"/>
<path d="M137.5 209.8H141.54V209.5H145.58V209H149.62V208.2H153.66V204.4H157.7V195H161.74V164.4H165.78V117.6H169.82V141.5H173.86V194.5H177.9V207.6H181.94V209.3H185.98V209.9H190.02V210.1H194.06V210.2H198.1V210.2H202.14V210.2H206.18V210.3H210.22V210.3H214.26V210.3H218.3V210.3H222.34V210.3H226.38V210.3H230.42V210.3H234.46V210.3H238.5" stroke="#208f20" stroke-width="1.0" fill="none"/>
<line x1="173" y1="108.2" x2="173" y2="210.3" stroke="#4682b4" stroke-width="1.3"/>
<line x1="166" y1="108.2" x2="166" y2="210.3" stroke="#ff0000" stroke-width="1.4"/>
<rect x="30" y="1.5" width="102" height="101.7" fill="none" stroke="#333" stroke-width="1.0"/>
<rect x="30" y="108" width="102" height="102.3" fill="none" stroke="#333" stroke-width="1.0"/>
<rect x="137" y="108.2" width="102.5" height="102.1" fill="none" stroke="#333" stroke-width="1.0"/>
<path d="M51.2 103.2v2.8M72.3 103.2v2.8M93.4 103.2v2.8M114.5 103.2v2.8" stroke="#333" stroke-width="0.9" fill="none"/>
<path d="M51.2 210.3v2.8M72.3 210.3v2.8M93.4 210.3v2.8M114.5 210.3v2.8" stroke="#333" stroke-width="0.9" fill="none"/>
<path d="M152.3 210.3v2.8M172.9 210.3v2.8M193.5 210.3v2.8M214 210.3v2.8M234.5 210.3v2.8" stroke="#333" stroke-width="0.9" fill="none"/>
<path d="M30 18.6h-2.8M30 39.7h-2.8M30 60.8h-2.8M30 81.9h-2.8M30 103h-2.8" stroke="#333" stroke-width="0.9" fill="none"/>
<path d="M30 112.5h-2.8M30 133.1h-2.8M30 153.7h-2.8M30 174.3h-2.8M30 194.9h-2.8" stroke="#333" stroke-width="0.9" fill="none"/>
<path d="M137 117.2h-2.8M137 140.5h-2.8M137 163.8h-2.8M137 187.1h-2.8M137 210.3h-2.8" stroke="#333" stroke-width="0.9" fill="none"/>
<text transform="translate(56.99 219.2) rotate(-45) scale(1.1 1)" text-anchor="end" class="tk">0.5</text>
<text transform="translate(78.09 219.2) rotate(-45) scale(1.1 1)" text-anchor="end" class="tk">1.0</text>
<text transform="translate(99.19 219.2) rotate(-45) scale(1.1 1)" text-anchor="end" class="tk">1.5</text>
<text transform="translate(120.29 219.2) rotate(-45) scale(1.1 1)" text-anchor="end" class="tk">2.0</text>
<text transform="translate(155.62 219.2) rotate(-45) scale(1.1 1)" text-anchor="end" class="tk">6</text>
<text transform="translate(177.86 219.2) rotate(-45) scale(1.1 1)" text-anchor="end" class="tk">12</text>
<text transform="translate(198.46 219.2) rotate(-45) scale(1.1 1)" text-anchor="end" class="tk">18</text>
<text transform="translate(218.96 219.2) rotate(-45) scale(1.1 1)" text-anchor="end" class="tk">24</text>
<text transform="translate(239.46 219.2) rotate(-45) scale(1.1 1)" text-anchor="end" class="tk">30</text>
<text transform="translate(24 113.8) rotate(-45) scale(1.1 1)" text-anchor="end" class="tk">30</text>
<text transform="translate(24 134.4) rotate(-45) scale(1.1 1)" text-anchor="end" class="tk">24</text>
<text transform="translate(24 155) rotate(-45) scale(1.1 1)" text-anchor="end" class="tk">18</text>
<text transform="translate(24 175.6) rotate(-45) scale(1.1 1)" text-anchor="end" class="tk">12</text>
<text transform="translate(24 196.2) rotate(-45) scale(1.1 1)" text-anchor="end" class="tk">6</text>
<text x="81" y="239.4" text-anchor="middle" class="ax">μ</text>
<text x="0" y="0" transform="translate(9.4 159.95) rotate(-90) scale(1.1 1)" text-anchor="middle" class="ax2">Δ<tspan font-style="italic">t</tspan></text>
<text x="76.4" y="263.40000000000003" class="cap"><tspan class="par">(</tspan>a<tspan class="par">)</tspan></text>
<text x="97.6" y="263.1" class="cap mu">μ</text>
<text x="105.4" y="264.3" class="sub">true</text>
<path d="M129.6 258.5h9M129.6 261.3h9" stroke="#222" stroke-width="0.75" fill="none"/>
<text x="159.4" y="263.1" class="cap" text-anchor="end">0.5</text>
<path d="M293.9 105H297.92V104.9H301.94V104.7H305.96V104.3H309.98V103.5H314V99.8H318.02V88.2H322.04V57.6H326.06V32.6H330.08V14.3H334.1V15.2H338.12V33.6H342.14V58.2H346.16V78.6H350.18V87.8H354.2V97H358.22V101.5H362.24V103.6H366.26V104.5H370.28V104.8H374.3V105H378.32V105.1H382.34V105.1H386.36V105.2H390.38V105.2H394.4" stroke="#208f20" stroke-width="1.0" fill="none"/>
<line x1="336.8" y1="5.2" x2="336.8" y2="105.2" stroke="#4682b4" stroke-width="1.1"/>
<line x1="337.9" y1="5.2" x2="337.9" y2="105.2" stroke="#ff0000" stroke-width="1.1"/>
<clipPath id="cb"><rect x="294" y="110.4" width="100.6" height="100.6"/></clipPath>
<g clip-path="url(#cb)">
<path d="M349.38 166.56h0M352.89 151.7h0M362.71 130.44h0M361.23 157.78h0M313.43 143.95h0M353.86 158h0M359.17 155h0M359.84 154.47h0M362.03 129.64h0M320.2 159.32h0M356.71 154.03h0M347.23 156.07h0M310.03 146.03h0M346.58 156.21h0M356.19 166.41h0M366.26 146.19h0M346.63 156.09h0M332.04 159.76h0M331.7 170.72h0M348.96 155.7h0M345.35 162.77h0M349.97 159.94h0M365.06 138.72h0M341.73 156.61h0M356.24 149.94h0M365.07 133.45h0M326.21 156.5h0M328.74 158.21h0M364.4 135.14h0M366.49 139.1h0M343.05 159.67h0M358.86 149.17h0M360.37 157.28h0M330.52 161.07h0M304.89 126.33h0M327.18 112.74h0M369.43 136.74h0M338.73 162.39h0M335.55 161.08h0M354.78 153.78h0M352.46 154.39h0M360.39 142.29h0M360.68 148.73h0M326.03 116.04h0M354.82 163.39h0M326.68 161.67h0M356.6 150.69h0M322 163.21h0M334.26 159.92h0M363.69 149.19h0M317.58 150.1h0M339.91 157.4h0M331.42 157.32h0M315.08 158.49h0M363.2 141.31h0M328.2 161.89h0M314.77 170.14h0M332.77 115.84h0M356.25 153.21h0M336.47 111.64h0M319.11 116.56h0M313.71 148.38h0M311.7 147.3h0M311.33 115.6h0M342.94 116.15h0M363.58 143.48h0M355.06 120.64h0M308.45 148.2h0M344.88 113.61h0M336.65 111.28h0M327.95 161.93h0M343.85 158.39h0M345.95 159.13h0M360.45 149.46h0M320.81 153.9h0M315.03 147.96h0M326.02 163.93h0M341.06 160.91h0M364 137.14h0M361.59 149.4h0M376.49 146.11h0M312.55 153.44h0M339.96 165.09h0M357.09 166.45h0M309.79 128.26h0M362.63 138.81h0M337.28 162.27h0M332.46 159.04h0M343.96 113.08h0M309.99 131.93h0M347.57 155.55h0M341 161.44h0M322.83 154.25h0M339.8 114.79h0M365.57 137.63h0M357.69 118.82h0M353.21 155.34h0M339.19 159.9h0M353.84 153.05h0M322.57 156.63h0M362.66 134.92h0M310.38 138.35h0M348.76 154.4h0M316.61 151h0M325.43 159.16h0M337.83 160.99h0M350.19 157.31h0M354.29 150.64h0M343.98 158.01h0M333.51 115.83h0M312.18 127.89h0M336.27 173.77h0M366.34 146.44h0M329.52 158.07h0M352.97 155.43h0M335.44 157.38h0M340.4 162.33h0M345.46 115.89h0M343.75 157.58h0M336.67 115.37h0M365.33 168.14h0M317.48 160.34h0M334.23 161.09h0M358.56 148.73h0M331.05 160.84h0M313.57 144.8h0M339.24 164.15h0M336.58 162.94h0M325.99 167.65h0M328.07 156.88h0M331.29 162.71h0M346.27 156.51h0M363.21 131.66h0M342.27 164.41h0M340.13 158.68h0M365.86 151.23h0M325.98 156.92h0M321.71 153.87h0M327.72 156.91h0M356.01 157.03h0M351.41 152.77h0M341.95 158.81h0M365.92 145.03h0M353.83 157.28h0M336.86 158.65h0M348.1 160.65h0M352.83 152h0M328.68 164.17h0M349.09 159.18h0M308.23 120.16h0M335.3 162.42h0M345.44 156.71h0M340.41 157.55h0M332.47 159.56h0M356.48 149.79h0M353.66 115.28h0M364.09 142.85h0M362.62 144.79h0M359.67 144.13h0M342.51 156.83h0M311.28 147.68h0M334.93 157.3h0M358.13 154.65h0M341.16 167.91h0M356.46 159.04h0M351.7 153.23h0M298.9 135.53h0M361.64 158.32h0M364.59 144.03h0M343.3 161.67h0M345.18 162.96h0M350.05 119.36h0M336.76 158.9h0M324.03 156.12h0M349.09 158.88h0M314.93 150.28h0M323.42 163.27h0M335.51 111.6h0M341.77 161.06h0M325.4 158.36h0M364.43 133.69h0M311.09 136.61h0M338.95 160.75h0M314.29 146.1h0M362.66 142.3h0M334.17 173.16h0M354.33 154.21h0M348.82 161.21h0M355.62 158.75h0M312.11 144.63h0M363.86 140.51h0M343.18 157.82h0M366.81 139.18h0M347.66 156.92h0M337.7 159.5h0M357.31 158.87h0M335.3 161.67h0M372.07 137.84h0M360.35 144.99h0M342.44 161.95h0M337.01 160.53h0M362.1 144.9h0M362.78 145.18h0M350.59 154.82h0M367.45 119.55h0M339.46 161.3h0M330.8 159.33h0M356.04 155.54h0M362.21 137.2h0M324.32 168.11h0M353.59 158.99h0M330.66 157.29h0M334.05 160.09h0M337.8 167.7h0M354.09 164.39h0M317.08 162.69h0M364.45 129.77h0M330 170.1h0M357.55 147.63h0M354.03 153.43h0M355.58 149.98h0M317.23 153.89h0M313.48 146.19h0M364.4 138.27h0M328.68 163.75h0M357.33 120.83h0M347.75 154.58h0M359.09 148.47h0M358.77 124.26h0M347 155.86h0M372.4 140.89h0M310.15 148.81h0M354.35 160.81h0M352.05 155.86h0M346.77 162.28h0M347.13 157.75h0M319.72 153.35h0M364.89 121.35h0M362.48 129.12h0M350.68 167.49h0M344.04 164.41h0M356.44 155.83h0M349 160.18h0M364.38 136.99h0M367.55 139.49h0M359.39 146.48h0M358.41 152.98h0M331.77 158.6h0M347.28 157.97h0M339.34 158.62h0M330.98 160.69h0M365.93 148.26h0M329.26 116.24h0M331.15 158.74h0M365.82 128.79h0M354.95 151.6h0M339.13 166.21h0M357.36 149.03h0M360.92 161.28h0M330.38 171.34h0M348.93 158.63h0M306.86 122.66h0M359.77 122.99h0M327.13 158.13h0M322.69 114.83h0M350.36 154.35h0M359.88 155.22h0M364.37 138.06h0M320.87 153.11h0M350.77 152.96h0M329.74 160.7h0M309.73 133.88h0M349.55 155.29h0M336.3 115.76h0M327 115.87h0M316.99 156.46h0M362.23 132.69h0M337.06 157.66h0M355.89 154.61h0M351.76 154.39h0M334.61 162.03h0M352.47 157.42h0M336.5 160.57h0M322.34 158.83h0M356.31 151.67h0M352.72 152.52h0M328.53 158.62h0M333.93 159.9h0M362.02 150.19h0M374.43 127.93h0M314.52 148.39h0M355.85 169.97h0M312.31 140.31h0M352.1 116.77h0M358.25 147.13h0M364.85 144.38h0M365.87 147.22h0M359.8 149.14h0M357.54 160.28h0M338.57 158.6h0M329.23 159.09h0M331.4 113.11h0M330.22 160.28h0M303.42 133.92h0M350.59 154.91h0M320.76 153.43h0M331.81 160.4h0M331.26 161.97h0M319.92 159.49h0M332.58 161.47h0M324.45 156.41h0M329.35 165.78h0M317.51 158.77h0M326.77 158.49h0M335.97 162.86h0M317.37 156.59h0M323.49 155.08h0M323.07 159.11h0M318.94 156.88h0M318.65 159.47h0M327.85 160.42h0M313 160.2h0M321.72 164.85h0M312.99 156.62h0M328.12 164.53h0M334.01 159.84h0M327.97 158.49h0M320.66 167.7h0M339.92 163.82h0M324.71 163.07h0M325.61 158.02h0M317.98 160.02h0M327.67 170.42h0M321.09 160.84h0M320.8 158.88h0M311.23 161.2h0M326.41 159.93h0M334.07 163.5h0M334.3 161.43h0M316.55 161.48h0M324.6 167.79h0M318.15 157.61h0M332.99 158.05h0M313.4 157.32h0M328.11 160.22h0M324.25 160.25h0M319.65 154.62h0M326.67 159.9h0M332.87 170.67h0M330.33 159.2h0M314.29 151.36h0M323.29 157.1h0M326.36 159.67h0M332.09 162.01h0M329.25 160.02h0M314.65 160.82h0M331.38 163.43h0M335.99 162.16h0M339.83 161.41h0M332.57 160.95h0M332.95 165.11h0M332.89 160.74h0M310.67 141.69h0M333.92 157.9h0M319.41 155.27h0M333.66 159.85h0M320.53 154.26h0M322.36 157.76h0M328.52 171.1h0M323.27 159.39h0M331.78 158.98h0M341.37 158.28h0M335.13 162.26h0M334.73 160.03h0M316.01 151.4h0M328.93 158.92h0M331.2 166.73h0M328.65 160.69h0M314.58 152.12h0M321.54 153.85h0M321.36 163.68h0M325.27 160.5h0M334.72 162.34h0M323.37 162.48h0M324.12 155.01h0M320.1 158.78h0M320.63 160.26h0M319.87 160.38h0M318.45 154.6h0M336.13 172.13h0M327.12 160.25h0M322.94 167.18h0M324.16 160.4h0M331.73 162.24h0M331.7 163.58h0M324.87 163.55h0M339.04 157.31h0M329.63 159.07h0M337.07 159.44h0M332.51 157.98h0M319.97 156.18h0M338.51 157.52h0M317.89 152.07h0M325.36 157.46h0M342.63 162.2h0M323.56 165.2h0M321.96 157.33h0M323.45 174.54h0M339.78 157.47h0M334.59 157.56h0M320.7 158.91h0M323.45 155.75h0M327.95 162.94h0M334.06 162.65h0M316.35 157.5h0M314.74 165.9h0M319.96 153.64h0M320.34 158.75h0M327.75 162.65h0M333.01 159.41h0M325.45 158.59h0M318.53 161.76h0M334.17 160.11h0M328.64 163.88h0M324.11 162.14h0M332.66 159.64h0M338.8 163.15h0M339.21 164.06h0M333.88 158.68h0M334.18 165.06h0M333.11 171.28h0M330.58 161.65h0M301.7 157.07h0M316.25 160.14h0M338.1 168.13h0M332.54 167.85h0M315.03 152.69h0M316.42 162.23h0M327.38 165.05h0M330.27 158.21h0M332.17 165.29h0M332.02 158.24h0M327.38 157.1h0M325.57 159.44h0M342.57 167.25h0M324.17 162.69h0M318.28 155.64h0M327.76 158.35h0M327.39 159.87h0M317.15 153.07h0M321.73 157.06h0M318.55 159.76h0M337.1 159.2h0M327.19 158.3h0M323.02 161.29h0M332.54 161.14h0M324.56 163.43h0M333.76 158.08h0M331.03 168.91h0M334.74 167.42h0M338.16 159.56h0M324.23 159.69h0M333.26 163.28h0M329.61 163.76h0M310.01 160.26h0M312.97 160.39h0M321.95 164.78h0M335.13 161.75h0M335.46 160.48h0M328.17 160.33h0M321.43 155.29h0M325.32 158.74h0M327.52 160.14h0M347.7 158.77h0M315.01 158.41h0M312.99 150.31h0M331.9 168.36h0M325.06 157.17h0M321.4 155.25h0M329.95 163.51h0M333.94 158.72h0M331.4 164.69h0M341.88 158.52h0M316.01 161.77h0M332.94 164.69h0M331.99 159.49h0M319.54 158.66h0M331.24 161.86h0M362.58 148.65h0M361.8 144.7h0M368.09 134.11h0M366.37 131.45h0M364.63 135.71h0M363.28 148.87h0M367.83 150.46h0M362.76 151.78h0M363.96 134.33h0M359.1 147.57h0M362.52 137.57h0M365.95 137.49h0M358.11 152.33h0M364.35 137.55h0M358.52 157.17h0M367.1 155.97h0M364.6 129.76h0M364.23 146.23h0M362.15 134.04h0M354.17 150.89h0M360.35 143.44h0M370.62 124.06h0M369.75 143.98h0M372.9 159.73h0M363.01 134.08h0M364.89 137.79h0M366.18 139.26h0M364.87 136.9h0M367.98 138.81h0M368.56 135.89h0M368.28 139.43h0M368.94 139.87h0M359.56 146.43h0M357.62 159.09h0M360.51 120.83h0M371.72 133.33h0M363.11 141h0M359.33 147.72h0M363.86 134.75h0M363.18 146.79h0M372.29 150.99h0M365.94 150.83h0M371.73 133.66h0M365.93 146.34h0M370.43 137.92h0M361.97 148.88h0M366.84 149.35h0M364.5 143.29h0M360.25 123.53h0M363.03 137.53h0M363.52 141.85h0M358.26 125.64h0M364.22 135.89h0M362.66 147.94h0M363.87 130.31h0M367.89 139.14h0M361.5 128.9h0M362.77 132.53h0M368.47 141.32h0M366.87 142.97h0M359.73 124.36h0M367.67 143.63h0M362.54 132.44h0M365.32 134.69h0M368.38 164.49h0M362.96 137.07h0M366.37 134.04h0M364.26 149.55h0M357.01 149.2h0M362.08 139.82h0M363.92 138.42h0M361.05 130.29h0M358.52 160.41h0M367.78 146.03h0M366.68 138.27h0M362.21 141.04h0M363.09 138.23h0M361.62 148.43h0M368.94 122.58h0M361.42 143.93h0M368.67 141.55h0M364.5 148.13h0M366.82 144.67h0M358.87 124.65h0M359.13 146.69h0M361.94 141.11h0M360.32 144.43h0M366.89 152.66h0M354.22 158.45h0M364.17 120.97h0M358.29 150.8h0M370.15 144.69h0M362.73 146.59h0M366.57 130.72h0M365.46 131.58h0M359.65 145.83h0M362.07 133.89h0M360.71 145.66h0M361.3 126.61h0M364.58 145.4h0M365.93 145.38h0M361.28 144.65h0M360.4 144.5h0M356.21 124.83h0M363.76 134.44h0M364.31 139.29h0M363.07 129.03h0M362.51 146.67h0M366.44 142.96h0M359.98 154.99h0M360.34 144.87h0M370.28 135.72h0M371.57 136.51h0M365.75 137.68h0M367.59 137.59h0M366.14 128.85h0M362.18 157.62h0M357.14 153.1h0M367.89 143.84h0M363.76 146.6h0M359.1 147.14h0M367.02 141.4h0M360.98 141.97h0M362.09 146.43h0M359.99 143.63h0M366.46 131.03h0M361.25 141.67h0M363.06 136.73h0M363.4 149.28h0M360.99 143.46h0M362.62 158.84h0M358.92 155.71h0M360.58 128.43h0M357.58 151.5h0M362.46 139.2h0M367.81 131.84h0M364.62 155.03h0M363.75 156.74h0M365.4 130.13h0M366.23 143.49h0M369.18 136.44h0M363.33 140.49h0M360.24 145.26h0M362.33 144.82h0M370.44 135.77h0M361.43 150.14h0M366.82 141.36h0M363.76 138.19h0M368.53 131.16h0M360.9 142.94h0M365.66 123.36h0M367.02 137.6h0M357.67 148.05h0M360.99 153.17h0M363.33 158.25h0M361.12 145.58h0M362.71 148.86h0M358.16 148.19h0M360.4 147.65h0M365.68 155.08h0M369.07 133.87h0M362.92 134.25h0M367.77 157.09h0M368.32 137.56h0M362.94 134.19h0M360.73 144.64h0M358.82 152.98h0M361.81 152.76h0M366.93 156.5h0M365.9 147.11h0M362.56 151.93h0M367.44 153.5h0M363.14 144.65h0M361.59 147.92h0M360.86 155.96h0M365.53 142.87h0M363.08 144.08h0M362.82 144.02h0M364.84 129.61h0M359.64 150.04h0M364.59 139.51h0M366.41 146.53h0M365.76 145.7h0M364.64 150.06h0M367.82 142.32h0M365.51 137.8h0M369.34 141.66h0M367.95 134.06h0M366.27 142.08h0M368.35 133.68h0M364.08 155.57h0M366.14 138.46h0M360.57 147.56h0M369.38 143.21h0M359.29 146.58h0M365.78 141.51h0M360.17 148.75h0M357.46 124.39h0M365.51 142.76h0M363.54 143.09h0M363.25 151.09h0M355.47 151.93h0M369.56 131.49h0M357.17 149.53h0M365.02 137.42h0M366.02 133.27h0M366.1 139.53h0M365.01 151.49h0M362.59 141.69h0M362.86 131.05h0M364.44 133.83h0M368.24 133.15h0M365.27 137.06h0M367.43 151.97h0M366.86 136.2h0M365.53 128.02h0M359.83 151.25h0M358.94 147.32h0M362.31 139.26h0M361.91 149.31h0M356.84 151.02h0M367.43 134.65h0M360.16 127.11h0M360.33 144.97h0M363.1 140.44h0M362.81 142.09h0M361.02 151.93h0M362.35 141.95h0M368.45 142.49h0M361.96 130.55h0M362.96 150.92h0M363.86 138.23h0M366.33 144.25h0M363.08 140.71h0M362.49 129.93h0M357.2 149.23h0M363.76 141.12h0M360.27 148.94h0M363.9 140.42h0M355.26 151.47h0M368.55 136.72h0M359.43 126.08h0M360.66 149.43h0M362.44 129.81h0M364.46 146.04h0M367.84 136.3h0M363.88 126.88h0M362.85 153.61h0M357.35 147.91h0M361.5 155.31h0M367.52 124.08h0M362.92 128.25h0M364.25 142.25h0M360.26 124.42h0M356.32 149.76h0M363.32 142.51h0M365.15 134.16h0M361.01 129.15h0M363.86 144.19h0M363.05 133.3h0M358.13 150.28h0M357.08 148.59h0M363.41 132.54h0M365.82 141.55h0M364.86 133.77h0M365.47 129.1h0M363.2 141.41h0M360.52 147.83h0M359.67 149.71h0M365.11 148.07h0M362.7 149.94h0M364.89 140.88h0M364.06 150.8h0M365.42 142.05h0M367.33 131.56h0M363.33 140.66h0M361.8 141.76h0M362.6 141.06h0M356.15 150.27h0M363.32 145.13h0M358.11 150.25h0M360.53 152.66h0M366.08 145.09h0M357 152.53h0M367.21 132.01h0M358.36 149.6h0M361.97 130.71h0M355.83 151.03h0M363.36 144.48h0M361.44 146.87h0M361 147.21h0M365.14 143.01h0M363.91 130.2h0M359.92 150.46h0M358.52 147.52h0M372.65 133.94h0M360.14 148.25h0M361.53 125.81h0M361.63 129.01h0M362.65 145.72h0M360.79 143.87h0M360.95 125.89h0M362.42 132.06h0M361.67 140.96h0M357.86 150.19h0M360.11 152.62h0M359.43 145.55h0M367.74 154.22h0M359.48 153.59h0M356.09 150.04h0M365.71 140.24h0M361.51 126.16h0M364.89 138.18h0M366.28 144.95h0M369 135.16h0M359.96 153.9h0M365.93 145.76h0M366.6 135.07h0M356.6 150.33h0M361.72 147.98h0M362.04 147.91h0M365.16 135.27h0M362.21 130.94h0M366.8 137.01h0M372.04 135.98h0M365.76 137.01h0M363.6 138.48h0M362.25 143.06h0M369.41 135.39h0M356.38 152.12h0M366.82 127.2h0M360.31 146.5h0M362.52 145.07h0M362.87 125.16h0M362.02 143.47h0M365.19 135.08h0M367.71 127.29h0M362.91 133.11h0M360.96 148.57h0M363.53 143.61h0M359.84 145.9h0M363.99 154.77h0M366.8 142.06h0M360.68 124.41h0M357.92 152.22h0M369.62 134.54h0M364.9 126.55h0M359.76 128.31h0M362.54 129.22h0M362.67 142.29h0M362.67 130.62h0M359.15 150.39h0M366.36 128.44h0M370.96 145.15h0M361.82 124.7h0M362.45 132.19h0M363.7 136.5h0M365.41 135.33h0M362.87 153.23h0M362.12 127.19h0M360.29 128.7h0M363.83 134.5h0M365.36 144.84h0M369.31 131.16h0M364.35 128.64h0M363.19 131.89h0M361.68 127.65h0M362.04 143.13h0M361.78 146.65h0M365.85 127.01h0M364.39 133.88h0M366.42 132.94h0M358.72 148.45h0M363.23 143.7h0M363.04 127.32h0M364.18 126.95h0M364.48 135.88h0M360.95 146.55h0M368.13 133.29h0M362.35 128.17h0M365.05 144.76h0M357.88 153.17h0M358.34 148.13h0M360.47 145.05h0M363.38 137.32h0M362.63 128.01h0M362.8 128.55h0M368.24 134.97h0M370.08 139.44h0M360.84 129.86h0M357.77 149.17h0M358.84 147.7h0M364.78 144.55h0M363.44 136.67h0M363.27 154.22h0M359.26 125.61h0M358.23 149.24h0M364.74 124.68h0M357.4 151.31h0M356.29 151.69h0M367.64 136.65h0M365.75 137.47h0M360.81 130.34h0M364.17 151.67h0M360.51 144.33h0M360.71 146.07h0M364.97 124.76h0M365.1 138.57h0M363.45 131.23h0M362.05 127.93h0M363.79 139.64h0M360.95 126.17h0M360.67 125.45h0M357.83 148.53h0M360.3 124.77h0M368.44 130.52h0M364.37 134.04h0M364.05 148.88h0M363.42 148.97h0M362.54 137.16h0M362.06 145.31h0M360.03 153.91h0M360.71 127.17h0M367.64 134.14h0M361.5 129.4h0M363.54 140.94h0M367.91 136.32h0M363.17 149.99h0M365.65 135.82h0M363.99 147.64h0M361.88 130.79h0M366.56 128.2h0M364.81 143.69h0M368.82 133.32h0M360.27 145.15h0M367.58 126.86h0M362.01 125.87h0M365.93 150.44h0M358.28 149.24h0M360.31 126.82h0M356.97 149.72h0M366.32 135.67h0M364.03 142.03h0M365.02 135h0M359.91 126.67h0M362.54 132.41h0M360.46 144.5h0M370.03 137.01h0M361.27 144.26h0M360.22 150.78h0M365 127.88h0M364.68 147.3h0M360.65 127.69h0M361.97 133.09h0M364.16 136.91h0M362.79 150.88h0M364.41 132.38h0M361.51 126.76h0M364.42 135.62h0M363.48 145.63h0M365.57 138.9h0M361.2 127.08h0M361.64 128.92h0M363.87 144.02h0M363.1 141.77h0M364.45 137.87h0M365.13 137.44h0M367.11 134.41h0M365.94 138.17h0M366.24 126.39h0M364.8 145.24h0M365.06 137.84h0M366.19 128.73h0M312.4 120.25h0M311.85 123.7h0M313.99 146.99h0M312.48 145.43h0M312.47 144.07h0M311.14 141.52h0M313.36 125.11h0M309.72 141.75h0M308.86 138.8h0M309.85 149.27h0M310.08 147.17h0M314.73 120.03h0M310.04 134.21h0M309.95 148.85h0M308.06 120.94h0M313.78 120.74h0M308.05 135.11h0M306.86 135.29h0M310.35 135.91h0M308.82 149.05h0M311.9 124.63h0M311.78 125.4h0M309.46 127.37h0M311.66 146.56h0M316.6 121.08h0M311.33 126.64h0M308.4 137.81h0M309.43 137.45h0M307.5 144.92h0M316.74 119.98h0M311.65 125.11h0M311.09 144.13h0M310.4 131.04h0M313.52 123.85h0M308.11 123.65h0M314.34 124.51h0M312.05 143.62h0M313.81 119.2h0M312.79 143.7h0M311.38 139.45h0M307.76 128.55h0M309.95 137.24h0M309.93 130.55h0M307.9 128.59h0M307.24 130.39h0M309.61 123.32h0M313.24 145.02h0M316.37 120.39h0M313.55 121.62h0M313.4 143.6h0M310.84 134.67h0M308.64 130.15h0M312.34 129.74h0M311.98 130.37h0M307.71 137h0M313.33 122.77h0M313.13 145.93h0M314.02 121.25h0M310.6 137.09h0M311.37 129.02h0M308.33 135.34h0M311.05 128.95h0M310.8 131h0M312.34 123.79h0M315.29 119.09h0M309.7 133.49h0M311.75 143.69h0M312.95 122.11h0M312.14 150.35h0M310.12 130.04h0M314.94 149.06h0M312.87 122.08h0M312.66 121.25h0M310.87 124.81h0M311.72 147.42h0M311.57 121.47h0M312.02 144.08h0M312.98 125.82h0M313.24 121.68h0M309.69 137.66h0M313.18 150.29h0M312 145.34h0M313.81 120.62h0M310.16 137.75h0M310.2 140.73h0M310.88 148.47h0M312.7 143.94h0M314.12 120.15h0M306.9 132.96h0M308.87 133.33h0M307.82 135.15h0M309.75 142.78h0M311.25 132.91h0M310.14 146.8h0M311.45 142.18h0M311.71 127.32h0M311.42 130.65h0M313.26 143.75h0M307.11 127.59h0M309.52 134.87h0M308.93 123.09h0M311.78 130.48h0M309.73 144.07h0M306.58 137.71h0M313.01 119.63h0M314.98 122.82h0M310.54 139.61h0M313.93 123.96h0M313.25 122.08h0M313.21 145.69h0M310.36 121.18h0M312.7 145.08h0M307.57 130.07h0M312.07 127.3h0M311.8 144.66h0M309.96 129.38h0M310.98 122.66h0M311.12 147.3h0M309.8 134.59h0M309.65 143.31h0M313.73 122.67h0M310.65 136.91h0M309.5 145.37h0M312.01 143.24h0M312.29 125.63h0M316.13 120.15h0M312.55 126.26h0M310.56 149.3h0M311.32 118.5h0M312.79 144.22h0M319.31 153.61h0M318.24 161.69h0M310.64 150.51h0M334.9 166.2h0M326.99 164.6h0M323.69 159.01h0M335.49 159.89h0M326.99 161.62h0M317.05 151.28h0M322.12 162.67h0M315.01 157.76h0M317.09 151.04h0M315.16 153.49h0M314.64 153.85h0M333.99 161.64h0M326.72 157.22h0M318.86 152.33h0M334.75 159.9h0M317.53 150.62h0M318.78 158.14h0M325.85 157.81h0M319.38 157.35h0M323.42 155.9h0M318.24 152.09h0M317.42 158.92h0M328.36 162h0M317.73 150.92h0M312.05 149.15h0M319.2 159.24h0M316.13 152.49h0M337.15 157.62h0M334.15 162.09h0M328.43 158.9h0M317.61 153.05h0M321.65 154.27h0M316.1 150.29h0M325.94 168.51h0M323.28 154.74h0M312.84 158.48h0M314.82 153.92h0M311.4 155.44h0M312.55 156.82h0M318.05 160.6h0M325.89 163.43h0M329.27 159.25h0M331.31 160.73h0M320.25 155.49h0M320.14 154.32h0M330.7 168.86h0M330.84 161.96h0M313.43 150.93h0M313.49 153.41h0M320.81 153.8h0M313 153.3h0M313.7 154.51h0M332.61 159.1h0M321.28 155.06h0M315.48 150.75h0M315.95 153.77h0M332.66 161.72h0M327.83 158.92h0M324.82 156.33h0M308.44 152.83h0M311.26 149.93h0M329.62 158.29h0M317.38 159.68h0M326.06 160.14h0M323.57 160.84h0M329.69 166.6h0M331.28 164.33h0M312.24 151.6h0M333.78 162.33h0M333.6 162.03h0M329.94 162.56h0M332.36 158.4h0M320.89 168.84h0M323.94 159.91h0M314.25 150.22h0M308.73 154.59h0M318.4 154.67h0M331.87 158.47h0M331.54 161.15h0M318.86 160.55h0M333.21 161.96h0M328.49 157.53h0M315.74 157.57h0M308.74 153.17h0M320.43 158.5h0M325.49 159.62h0M321.85 158.53h0M316.87 153.58h0M331.9 165.12h0M329.96 158.59h0M317.61 156.6h0M316.13 159.06h0M311.94 150.87h0M319.58 155.6h0M335.1 160.3h0M327.23 158.99h0M328.81 160.03h0M316.05 152.37h0M315.22 151.21h0M319.18 156.03h0M316.25 157.19h0M315.54 152.91h0M315.55 150.69h0M331.74 162.17h0M319.72 157.12h0M311.58 161.39h0M315.86 151.94h0M334.98 164.7h0M314.01 151.96h0M333.28 160.01h0M316.87 152.12h0M336.41 160.95h0M326.6 159.87h0M315.02 151.41h0M321.03 154.48h0M333.58 159.26h0M326.47 160.56h0M312.38 156.34h0M319.61 154.49h0M315.64 160.65h0M315.25 150.58h0M333.97 159.93h0M321.15 159.83h0M326.21 161.23h0M317.02 155.69h0M323.88 158.31h0M329.61 163.69h0M330.5 164.68h0M321.99 156.31h0M322.54 161.08h0M320.78 158.38h0M330.53 162.07h0M315.35 159.44h0M332.49 159.3h0M317.57 154.77h0M328.33 160.6h0M315.94 152.34h0M333.3 166.48h0M335.66 158.41h0M313.87 150.25h0M310.76 160.84h0M327.62 159.66h0M333.53 160.17h0M325.04 161.37h0M327.28 157.84h0M336.1 164.13h0M328.84 162.91h0M320.02 158.92h0M318.88 152.2h0M323.54 159.13h0M315.93 156.88h0M319.93 154.56h0M321.47 159.34h0M306.45 158.84h0M325.17 158.74h0M329.5 164.1h0M331.23 160.63h0M326.2 167.62h0M318.19 156.77h0M323.28 160.95h0M332.22 159.18h0M326.21 163.07h0M320.56 160.52h0M325.61 160.99h0M324.13 162.8h0M335.16 164.76h0M329.01 159.66h0M331.85 160.43h0" stroke="#008000" stroke-opacity="0.26" stroke-width="1.1" stroke-linecap="square" fill="none"/>
<path d="M311.9 134.5C312.13 131.23 313.17 126.48 314.8 123.7C316.43 120.92 319.25 119.03 321.7 117.8C324.15 116.57 326.57 116.47 329.5 116.3C332.43 116.13 336.13 116.32 339.3 116.8C342.47 117.28 345.47 117.6 348.5 119.2C351.53 120.8 355.25 123.98 357.5 126.4C359.75 128.82 361.55 130.98 362 133.7C362.45 136.42 361.4 140 360.2 142.7C359 145.4 357.2 147.8 354.8 149.9C352.4 152 348.72 154.12 345.8 155.3C342.88 156.48 340.35 156.78 337.3 157C334.25 157.22 330.77 157.75 327.5 156.6C324.23 155.45 320.05 152.32 317.7 150.1C315.35 147.88 314.37 145.9 313.4 143.3C312.43 140.7 311.67 137.77 311.9 134.5Z" fill="#aad4aa" stroke="#008000" stroke-width="1.3"/>
<path d="M320.5 134.5C320.5 131.42 321.45 127.67 323.6 125.7C325.75 123.73 329.82 122.7 333.4 122.7C336.98 122.7 342.33 123.58 345.1 125.7C347.87 127.82 349.83 132.47 350 135.4C350.17 138.33 348.7 141.33 346.1 143.3C343.5 145.27 338.15 147.05 334.4 147.2C330.65 147.35 325.92 146.32 323.6 144.2C321.28 142.08 320.5 137.58 320.5 134.5Z" fill="#008000" stroke="#008000" stroke-width="0.6"/>
</g>
<line x1="336.6" y1="110.4" x2="336.6" y2="211" stroke="#4682b4" stroke-width="1.3"/>
<line x1="294" y1="137.4" x2="394.6" y2="137.4" stroke="#4682b4" stroke-width="1.3"/>
<circle cx="336.6" cy="137.4" r="2.3" fill="#4682b4"/>
<line x1="337.6" y1="110.4" x2="337.6" y2="211" stroke="#ff0000" stroke-width="1.4"/>
<line x1="294" y1="133.8" x2="394.6" y2="133.8" stroke="#ff0000" stroke-width="1.4"/>
<circle cx="337.6" cy="133.8" r="2.7" fill="#ff0000"/>
<path d="M399.7 211H403.7V211H407.7V211H411.7V211H415.7V211H419.7V211H423.7V211H427.7V211H431.7V210.8H435.7V210.6H439.7V210.2H443.7V209.6H447.7V208.9H451.7V206.5H455.7V203.4H459.7V195.2H463.7V177.6H467.7V152.5H471.7V128.8H475.7V119.8H479.7V155H483.7V188.5H487.7V206.5H491.7V209.2H495.7V210.5H499.7" stroke="#208f20" stroke-width="1.0" fill="none"/>
<line x1="472.8" y1="110.6" x2="472.8" y2="211" stroke="#4682b4" stroke-width="1.3"/>
<line x1="476.5" y1="110.6" x2="476.5" y2="211" stroke="#ff0000" stroke-width="1.4"/>
<rect x="294" y="5.2" width="100.6" height="100" fill="none" stroke="#333" stroke-width="1.0"/>
<rect x="294" y="110.4" width="100.6" height="100.6" fill="none" stroke="#333" stroke-width="1.0"/>
<rect x="399.3" y="110.6" width="101.1" height="100.4" fill="none" stroke="#333" stroke-width="1.0"/>
<path d="M314 105.2v2.8M336.6 105.2v2.8M359.1 105.2v2.8M381.7 105.2v2.8" stroke="#333" stroke-width="0.9" fill="none"/>
<path d="M314 211v2.8M336.6 211v2.8M359.1 211v2.8M381.7 211v2.8" stroke="#333" stroke-width="0.9" fill="none"/>
<path d="M408.5 211v2.8M431.4 211v2.8M454.3 211v2.8M477.2 211v2.8" stroke="#333" stroke-width="0.9" fill="none"/>
<path d="M294 10.5h-2.8M294 29.5h-2.8M294 48.4h-2.8M294 67.4h-2.8M294 86.3h-2.8M294 105.2h-2.8" stroke="#333" stroke-width="0.9" fill="none"/>
<path d="M294 132.7h-2.8M294 155.9h-2.8M294 179.1h-2.8M294 202.3h-2.8" stroke="#333" stroke-width="0.9" fill="none"/>
<path d="M399.3 123.2h-2.8M399.3 140.8h-2.8M399.3 158.4h-2.8M399.3 175.9h-2.8M399.3 193.5h-2.8M399.3 211h-2.8" stroke="#333" stroke-width="0.9" fill="none"/>
<text transform="translate(319.79 219.9) rotate(-45) scale(1.1 1)" text-anchor="end" class="tk">0.5</text>
<text transform="translate(342.39 219.9) rotate(-45) scale(1.1 1)" text-anchor="end" class="tk">1.0</text>
<text transform="translate(364.89 219.9) rotate(-45) scale(1.1 1)" text-anchor="end" class="tk">1.5</text>
<text transform="translate(387.49 219.9) rotate(-45) scale(1.1 1)" text-anchor="end" class="tk">2.0</text>
<text transform="translate(414.29 219.9) rotate(-45) scale(1.1 1)" text-anchor="end" class="tk">5.0</text>
<text transform="translate(437.19 219.9) rotate(-45) scale(1.1 1)" text-anchor="end" class="tk">7.5</text>
<text transform="translate(461.73 219.9) rotate(-45) scale(1.1 1)" text-anchor="end" class="tk">10.0</text>
<text transform="translate(484.63 219.9) rotate(-45) scale(1.1 1)" text-anchor="end" class="tk">12.5</text>
<text transform="translate(288 134) rotate(-45) scale(1.1 1)" text-anchor="end" class="tk">12.5</text>
<text transform="translate(288 157.2) rotate(-45) scale(1.1 1)" text-anchor="end" class="tk">10.0</text>
<text transform="translate(288 180.4) rotate(-45) scale(1.1 1)" text-anchor="end" class="tk">7.5</text>
<text transform="translate(288 203.6) rotate(-45) scale(1.1 1)" text-anchor="end" class="tk">5.0</text>
<text x="344.3" y="239.4" text-anchor="middle" class="ax">μ</text>
<text x="0" y="0" transform="translate(268.3 161.5) rotate(-90) scale(1.1 1)" text-anchor="middle" class="ax2">Δ<tspan font-style="italic">t</tspan></text>
<text x="336" y="263.40000000000003" class="cap"><tspan class="par">(</tspan>b<tspan class="par">)</tspan></text>
<text x="357.2" y="263.1" class="cap mu">μ</text>
<text x="365" y="264.3" class="sub">true</text>
<path d="M389.2 258.5h9M389.2 261.3h9" stroke="#222" stroke-width="0.75" fill="none"/>
<text x="419" y="263.1" class="cap" text-anchor="end">1.0</text>
<path d="M549.7 102H553.8V101.6H557.9V100.1H562V92.1H566.1V67.3H570.2V36.2H574.3V9.5H578.4V10.9H582.5V32.4H586.6V58.3H590.7V76.3H594.8V89.5H598.9V96.1H603V99.3H607.1V101.1H611.2V101.8H615.3V102H619.4V102.2H623.5V102.3H627.6V102.3H631.7V102.4H635.8V102.4H639.9V102.4H644V102.4H648.1V102.4H652.2" stroke="#208f20" stroke-width="1.0" fill="none"/>
<line x1="589.5" y1="0.4" x2="589.5" y2="102.4" stroke="#ff0000" stroke-width="1.4"/>
<line x1="599.1" y1="0.4" x2="599.1" y2="102.4" stroke="#4682b4" stroke-width="1.1"/>
<clipPath id="cc"><rect x="550" y="108" width="102.5" height="102"/></clipPath>
<g clip-path="url(#cc)">
<path d="M604.45 150.86h0M601.68 148.11h0M581.06 169.71h0M577.65 170.28h0M581.82 177.89h0M599.69 152.4h0M585.22 168.11h0M605.39 147.68h0M594.23 170.75h0M585.49 113.04h0M594.03 157.13h0M615.71 139.51h0M606.75 145.52h0M581.92 167.48h0M583.92 173.46h0M584.09 165.16h0M606.91 136.59h0M599.03 153.98h0M609.97 118.61h0M577.25 167.79h0M604.04 154.17h0M560.28 167.88h0M584.46 164.25h0M589.04 162.29h0M591.98 162.95h0M598.9 150.12h0M610.77 129.5h0M585.63 166.66h0M570.98 168.62h0M594.88 157.45h0M597.18 156.96h0M591.89 163.68h0M601.54 149.16h0M591.63 159.28h0M592.09 165.75h0M566.27 172.12h0M584.51 166.45h0M597.35 152.04h0M599.24 151.39h0M599.87 117.22h0M602.8 121.81h0M588.16 175.01h0M592.17 167.05h0M579.09 167.13h0M604.01 124.07h0M589.94 163.9h0M599.35 157.29h0M609.42 134.08h0M596.19 155.99h0M578.75 166.37h0M599.64 157.35h0M598.67 157.93h0M591.23 161.07h0M586.11 169.75h0M605.46 144.46h0M581.49 169.66h0M593.85 159.61h0M608.51 117.91h0M592.28 159.12h0M602.69 151.6h0M585.58 165.55h0M610.35 128.2h0M590.57 169.32h0M605.68 148.01h0M597.3 152.95h0M604.73 150.22h0M575.73 167.88h0M597.61 158.62h0M606.99 143.03h0M594.79 160.78h0M580.53 168.56h0M605.14 173.12h0M574.59 168.41h0M592.86 164.91h0M608.14 143.43h0M597.16 165.97h0M571.94 168.99h0M569.62 172.21h0M593.49 175.44h0M602.13 150.56h0M607.12 138.92h0M582.83 167.33h0M562.29 161.32h0M600.05 150.37h0M597.65 156.46h0M572.22 170.04h0M598.55 155.51h0M598.72 152.95h0M575.56 167.82h0M599.6 161.59h0M593.04 163.01h0M611.6 137.52h0M600.45 117.72h0M602.39 152.73h0M610.93 135h0M598.47 162.74h0M597.01 153.6h0M568.86 169.75h0M601.69 149.75h0M604.47 156.1h0M593.78 160.38h0M586.33 162.63h0M582.06 168.46h0M575.54 114.46h0M598.59 163.14h0M601.84 158.17h0M588.67 162.53h0M584.67 166.39h0M584.77 167.37h0M604.79 123.86h0M597.2 155.88h0M597.25 153.37h0M614.31 133.36h0M593.96 156.99h0M608.85 119.44h0M601.49 163.18h0M598.86 152.79h0M574.94 167.6h0M579.94 171.11h0M584.87 167.68h0M572.31 175.63h0M591.91 159.28h0M606.93 157.64h0M603.29 160.97h0M608.08 126.09h0M598.23 153.53h0M599 152.7h0M607.79 145.05h0M607.78 143.35h0M611.97 130.47h0M606.81 125.19h0M582.04 167.68h0M596.06 116.47h0M588.75 163.56h0M609.91 120.78h0M591.75 160.8h0M604.94 148.94h0M617.38 124.88h0M587.04 168.66h0M608.4 136.1h0M581.13 168.13h0M602.96 150.39h0M579.38 168.06h0M589.7 162.41h0M612.12 141.88h0M598.67 116.12h0M598.46 152.52h0M609.99 146.54h0M581.83 168.61h0M587.46 166.13h0M595.42 154.35h0M587.86 161.51h0M599.42 114.52h0M606.62 122.17h0M576.35 170.49h0M586.57 169.76h0M565.48 170.44h0M560.6 158.86h0M602.73 145.96h0M598.45 156.46h0M591.48 163.99h0M599.65 148.87h0M591.82 168.53h0M600.95 151.75h0M600.38 153.91h0M602.88 144.81h0M593.33 161.05h0M587.36 163.29h0M600.85 114.98h0M575.27 167.25h0M557.97 144.09h0M605.59 152.69h0M600.69 152.04h0M608.67 129.32h0M594.85 156.85h0M610.06 133.6h0M601.32 148.67h0M610.92 143.91h0M614.67 144.48h0M603.76 145.77h0M587 167.86h0M578.91 172.34h0M597.48 158.63h0M603.11 120.68h0M576.89 168.82h0M603.62 147.54h0M601.63 146.26h0M584.3 164.81h0M594.11 115.88h0M601.37 114.68h0M602.24 150.24h0M608.5 144.32h0M558.35 156.93h0M600.8 120.35h0M574.33 176.24h0M590.58 161.99h0M586.44 168.84h0M609 130h0M584.21 165.36h0M580.31 167.24h0M606.93 127.83h0M599.54 152.07h0M595.83 166.96h0M588.65 161.56h0M605.5 140.38h0M601.04 156.91h0M603.7 160.67h0M579.54 166.13h0M603.22 149.76h0M576.25 167.36h0M604.26 121.29h0M565.48 166.95h0M612.26 137.36h0M599.74 162.52h0M608.81 140.66h0M606.15 122.84h0M618.01 135.99h0M577.33 169.88h0M570.37 171.22h0M584.19 165.87h0M601.89 147.21h0M587.61 167.21h0M562.98 169.79h0M613.37 140.13h0M605.92 139.63h0M601.67 154.69h0M574.79 167.25h0M598.51 151.9h0M606.69 126.39h0M559.92 155.2h0M575.61 171.99h0M599.11 157.24h0M612.88 132.41h0M612.47 132.74h0M578.99 174.97h0M573.37 169.74h0M587.13 165.43h0M593.53 169.69h0M593.44 162.04h0M606.73 125.21h0M596.21 112.36h0M605.88 143.9h0M601.03 109.01h0M600.72 161.94h0M592.98 160.99h0M605.32 158.68h0M599.82 150.3h0M598.81 158.32h0M594.69 165.93h0M599.73 160.89h0M590.8 162.68h0M593.84 160.03h0M577.14 182.27h0M591.76 160.73h0M614.71 136.45h0M602.05 155.58h0M610.06 137.33h0M593.63 162.92h0M608.06 133.88h0M607.22 135.39h0M603.37 146.02h0M595.88 158.64h0M572 178.74h0M604.05 123.21h0M613.55 132.97h0M584.91 167.52h0M587.92 163.93h0M583.14 165.92h0M593.3 177.6h0M603.78 124.16h0M578.92 167.6h0M606.81 131.14h0M600.57 155.3h0M604.84 148.04h0M586.6 114.26h0M596.16 157.29h0M574.02 169.01h0M600.02 149.48h0M574.47 170.52h0M606.05 141h0M615.49 142.44h0M587.06 174.13h0M599.75 152.54h0M600.08 151.3h0M591.79 159.78h0M607.34 135.77h0M604.42 125.13h0M593.27 157.74h0M575.13 170.15h0M586.93 164.12h0M597.94 154.03h0M596.03 156h0M612.65 122.55h0M611.92 163.54h0M590.86 162.14h0M596.01 163.82h0M585.35 165.54h0M599.6 149.58h0M596.48 116.88h0M589.5 167.7h0M592.42 160.31h0M599.62 158.06h0M580.89 169.34h0M598.58 115.7h0M588.47 161.39h0M589.24 162.75h0M599.82 150.35h0M607.47 126.24h0M612.14 135.81h0M590.29 164.07h0M597.28 163h0M589.74 114.22h0M574.42 173.32h0M600.64 117.66h0M587.1 163.62h0M599.81 116.82h0M611.61 121.18h0M602.96 146.63h0M567.61 167.31h0M587.06 113.13h0M582.75 166.22h0M565.5 175.46h0M583.03 169.91h0M611.28 119.39h0M565.98 169.3h0M594.76 155.66h0M604.07 148.43h0M571.04 167.95h0M598.12 152.01h0M607.89 116.8h0M574.14 178.47h0M576.71 170.42h0M602.3 147.29h0M601.87 115.29h0M594.44 159.7h0M610.29 142.56h0M602.07 146.6h0M605.49 122.89h0M589.43 161.79h0M584.18 165.93h0M604.77 145.99h0M595.09 156.34h0M594.65 115.69h0M591.83 158.17h0M596.04 164.02h0M556.3 143.29h0M605.02 149.42h0M591.51 159.06h0M575.81 168.62h0M576.23 182.41h0M603.08 146.74h0M564.83 166.86h0M587.21 164.12h0M590.95 166.73h0M587.82 162.34h0M562.06 168.55h0M602.32 118.82h0M583.55 167.24h0M595.91 161.52h0M578.68 175.17h0M581.38 165.71h0M601.87 116.05h0M588.65 167.51h0M584.55 166.6h0M601 148.98h0M617.75 131.48h0M591.29 160.46h0M583 166.76h0M585.38 166.23h0M616.73 156.96h0M597.96 157.37h0M607.23 129.23h0M606.79 122.69h0M611.11 138.07h0M608.58 142.14h0M611.47 131.53h0M584.45 171.76h0M576.48 172.03h0M576.29 172.57h0M603.73 144.86h0M592.88 166.01h0M597.37 154.66h0M602.91 146.11h0M594.87 162.06h0M590.06 161.49h0M594.64 161.35h0M599.95 150.47h0M597.73 151.47h0M594.36 162.03h0M604.38 147.65h0M594.22 160.13h0M575.69 167.48h0M579 178.44h0M605.44 123.99h0M600.46 159.34h0M610.81 127.16h0M555.38 159.81h0M607.48 126.74h0M586.15 164.6h0M596.34 157.11h0M598.54 151.02h0M593.24 164.99h0M594.52 116.69h0M596.33 159.98h0M606.41 127.49h0M580.14 166.22h0M576.72 183.11h0M586.24 170.56h0M560.72 171.81h0M601.65 148.7h0M589.44 168.28h0M608.63 118.4h0M603.51 121.17h0M605.07 122.71h0M588.73 165.09h0M575.54 167.56h0M568.82 165.6h0M589.24 163.34h0M594.91 162.55h0M613.36 133.24h0M607.57 136.43h0M594.06 115.14h0M600.02 149.74h0M595.86 155.59h0M580.17 168.22h0M597.51 153.2h0M589.12 162.99h0M575.23 171.42h0M606.93 142.91h0M602.73 159.1h0M608.16 127.81h0M588.74 169.73h0M587.46 169.8h0M567.26 174.44h0M597.12 164.77h0M609.57 121.03h0M609.83 143.96h0M556.78 146.45h0M600.24 156.5h0M608.4 134.96h0M575.95 171.14h0M554.69 161.7h0M598.06 152.19h0M599.5 156.08h0M614.09 151.83h0M619.9 110.19h0M604.13 142.95h0M597.99 158.4h0M585.33 175.5h0M613.45 137.86h0M607.41 133.62h0M568.57 166.67h0M600.75 155.73h0M606.95 166.37h0M580.09 167.9h0M570.46 166.53h0M570.01 168.95h0M573.6 167.6h0M565.44 167.15h0M570.61 167.8h0M574.53 168.42h0M565.97 169.64h0M561.36 170.82h0M568.2 168.09h0M562.55 165.58h0M567.44 166.41h0M571.15 168.56h0M581.05 169.22h0M568.67 170.01h0M560.97 168.23h0M561.39 162.95h0M565.56 164.75h0M582.41 166.5h0M572.79 175.19h0M557.18 168.18h0M562.1 163.78h0M563.08 164.56h0M558.06 166.29h0M560.83 163.98h0M563.03 170.06h0M558.21 170.73h0M559.81 165.7h0M587.73 163.99h0M570.9 167.54h0M564.04 163.04h0M580.89 166.55h0M563.11 164.3h0M586.94 177.71h0M565.7 165.37h0M578.32 167.67h0M563.69 165.39h0M555.57 169.29h0M567.95 167.45h0M567.97 167.72h0M587.54 163.13h0M580.2 169.96h0M566.93 167.04h0M576.91 175.73h0M579.91 170.48h0M564.35 167.5h0M560.07 172.08h0M567.06 171.53h0M572.75 167.61h0M576.21 167.54h0M569.28 174.09h0M570.07 169.25h0M569.12 172.73h0M571.45 170.07h0M568.82 169.57h0M578.1 176.04h0M565.26 167.45h0M558.45 174.97h0M573.48 168.33h0M566.69 168.03h0M565.81 170.17h0M585.54 163.47h0M572.34 171.51h0M573.44 173.48h0M568.35 165.58h0M576.11 172.42h0M567.8 171.19h0M574.14 168.99h0M564.96 165.88h0M572.15 169.13h0M575.75 167.59h0M557.05 177.17h0M574.03 169.14h0M561.4 168.42h0M567.93 169.59h0M568.91 167.63h0M571.22 171.9h0M576.93 170.34h0M568.9 176.94h0M560.28 166.87h0M581.97 165.87h0M566.85 174.1h0M564.74 168.65h0M578.29 167.05h0M568.73 166.7h0M557.58 169.78h0M571.85 166.54h0M579.12 167.45h0M578.06 167.17h0M567.79 172.09h0M567.8 171.51h0M579.09 167.55h0M560.19 170.95h0M569.29 170.65h0M573.29 169.35h0M574.95 170.64h0M575.34 168.75h0M564.36 170.19h0M563.86 167.09h0M572.1 167.16h0M580.59 166.33h0M578.79 170.52h0M567.92 170.68h0M560.04 166.46h0M571.83 176.95h0M578.68 167.64h0M575.1 169.69h0M580.56 169.52h0M576.07 168.51h0M565.14 168.71h0M587.9 165.68h0M576.48 172.59h0M562.47 168.34h0M571.4 168.12h0M581.24 169.64h0M573.37 168.51h0M578.07 167.46h0M570.32 169.37h0M557.8 169.65h0M576.98 169.16h0M561.61 170.05h0M589.58 160.86h0M566.26 167.85h0M560.94 169.16h0M572.88 167.43h0M563.54 175.22h0M571.18 167.45h0M566.9 166.7h0M573.87 174.12h0M589.85 170.65h0M564.45 164.21h0M572.13 167.08h0M580.31 168.21h0M572.64 170.49h0M571.02 173.51h0M562.4 167.6h0M570.23 170.21h0M561.42 166.27h0M560.38 160.98h0M574.92 172.01h0M563.17 169.34h0M560.22 170.94h0M566.99 168.95h0M570.31 173h0M583.6 169.78h0M567.43 167.39h0M572.12 169.86h0M563.4 172.1h0M587.06 167.38h0M559.91 160.42h0M577.45 170.11h0M565.94 173.75h0M593.53 169.16h0M566.82 172.34h0M570.96 171.3h0M568.65 171.37h0M565.46 165h0M567.73 165.73h0M569.87 168.41h0M581.2 167.83h0M565.66 166.62h0M562.85 163.35h0M573.6 173.73h0M555.27 166.19h0M562.86 167.58h0M563.14 168.94h0M570.99 173.58h0M569.7 169.5h0M568.25 172.22h0M561.96 169.45h0M568.42 166.83h0M576.62 168.23h0M574.4 169.9h0M559.18 177.06h0M575.52 171.23h0M559.08 168.13h0M583.08 167.21h0M566.23 163.64h0M569.84 167.38h0M574.23 170.19h0M568.18 164.91h0M565.55 172.42h0M565.1 171.28h0M567.07 164.38h0M573.11 166.63h0M567.46 171h0M571.29 167.86h0M569.44 166.5h0M562.75 162.33h0M562.38 170.87h0M574.55 166.84h0M564.73 168.91h0M564.25 172.44h0M579.04 167.02h0M554 170.72h0M580.74 167.74h0M568.86 168.64h0M574.17 168.23h0M565.31 167.2h0M587.73 165.11h0M561.96 166.26h0M572.28 173.53h0M569.23 165.53h0M580 175.74h0M572 169.42h0M573.24 166.73h0M590.92 161.65h0M574.14 169.76h0M576.13 167.28h0M562.97 169.65h0M573.91 174.87h0M563.14 168.33h0M574.65 172.08h0M573.88 166.82h0M566.31 165.1h0M572.79 166.94h0M555.66 178.45h0M567.39 170.13h0M559.59 162.59h0M568.86 170.34h0M556.51 173.14h0M564.32 167.56h0M568.95 166.21h0M566.96 166.66h0M558.36 171.16h0M570.91 175.72h0M568.92 166.97h0M566.75 174.28h0M570.71 170.27h0M569.67 169.56h0M576.6 168.43h0M582.98 171.44h0M574.86 167.29h0M581.59 167.37h0M562.18 172.09h0M558.6 172.95h0M582.07 169.42h0M576.78 168.43h0M567.84 170.3h0M576.02 171.66h0M589.73 163.45h0M575.19 172.36h0M565.96 165.94h0M581.8 165.67h0M573.02 173.68h0M576.77 171.46h0M569.18 167.25h0M559.92 169.16h0M581.41 172.69h0M569.88 169.22h0M563.35 167.94h0M565.62 171.03h0M572.42 169.22h0M570.82 169.71h0M560.49 167.28h0M570.08 170.51h0M563.67 167.48h0M577.28 167.01h0M591.58 158.69h0M558.98 168.86h0M576.17 166.78h0M566.04 169.01h0M565.54 165.23h0M584.27 167.52h0M588.28 166.62h0M579 170.92h0M560.5 169.07h0M568.86 167.51h0M576.38 168.67h0M562.92 170.5h0M570.92 174.36h0M567.81 171.76h0M577.21 167.75h0M561.25 167.95h0M566.98 167.05h0M565.87 166.93h0M560.16 165.35h0M571.67 170.93h0M561.13 159.44h0M578.66 167.53h0M566.29 174.55h0M585.92 163.28h0M566.88 171.02h0M565.79 167.36h0M557.23 167.03h0M573.73 172.37h0M579.57 167.97h0M572.2 171.21h0M559.56 166.77h0M576.99 169.67h0M565.96 169.33h0M589.52 161.58h0M570.27 169.22h0M562.31 159.27h0M563.96 176.25h0M571.53 169.9h0M561.31 164.61h0M584.36 169.31h0M565.84 167.33h0M575.3 169.51h0M570.01 170.94h0M570.97 167.57h0M562.03 164.3h0M573.84 175.3h0M577.2 171.36h0M575.89 167.17h0M570.89 166.51h0M570.76 170.17h0M580.64 175.47h0M560.17 174.58h0M554.73 166.97h0M564.9 170.94h0M581.39 169.71h0M573.34 168.36h0M566.38 174.05h0M578.94 168.19h0M566.52 165.03h0M576.74 170.4h0M562.58 172.38h0M582.6 170.86h0M575.17 168.13h0M574.16 175.51h0M571.1 169.29h0M568.94 165.43h0M572.57 166.57h0M562.04 169.6h0M572.72 168.08h0M569.74 170.35h0M569.34 171.47h0M567.1 174h0M572.31 174.66h0M569.63 167.19h0M563.96 167.63h0M565.63 168.66h0M560.27 180.29h0M575.57 177.42h0M557.09 171.38h0M559.08 167.75h0M564.02 171.76h0M564.62 170.67h0M566.15 171.35h0M573.19 169.78h0M571.55 167.18h0M564.36 166.98h0M557.83 174.1h0M566.98 175.12h0M577.83 178.45h0M584 171.53h0M573.39 169.15h0M564.58 162.96h0M568.3 173.24h0M557.27 169.26h0M576.11 167.48h0M591.35 165.21h0M563.59 164.9h0M570.39 170.06h0M578.38 168.52h0M564.07 166.01h0M566.1 173.28h0M576.31 169.82h0M581.19 168.58h0M585.4 164.97h0M573.62 172.33h0M581.79 166.59h0M558.91 165.47h0M562.67 171.47h0M569.6 172.49h0M583.9 169.16h0M564.48 170.08h0M554.36 165.53h0M578.01 166.69h0M563.45 161.28h0M564.61 180.93h0M566.2 167.28h0M573.01 169.03h0M579.78 166.79h0M567.84 165.13h0M558.63 166.17h0M589.87 164.6h0M565.97 164.12h0M567 168.95h0M574.32 174.22h0M562.85 168.67h0M567 165.77h0M573.88 167.35h0M580.74 170.26h0M576.74 170.11h0M573.74 170.05h0M565.27 173.66h0M563.82 168.34h0M588.05 166.93h0M567.96 168.98h0M567.51 167.84h0M556.24 168.56h0M567.08 171.21h0M570.26 172.37h0M569.66 167.87h0M574.58 170.69h0M569.7 165.72h0M571.35 172.21h0M585.12 166.97h0M586.34 164.27h0M566.21 165.82h0M568.47 169.54h0M574.39 170.51h0M567.93 169.7h0M569.57 165.88h0M613.75 118.13h0M609.47 138.85h0M611.78 119.86h0M611.85 127.87h0M611.11 119.72h0M611.64 127.42h0M611.85 129.36h0M614.58 142.11h0M606.45 141.09h0M608.21 121.85h0M609.98 128.11h0M610.84 123.98h0M607.9 131.39h0M613.56 126.81h0M610.6 129h0M606.38 128.51h0M606.62 136.61h0M606.93 139.12h0M611.63 127.98h0M620.16 130.49h0M608.05 118.47h0M609.27 135.11h0M608.04 125.64h0M615.69 115.46h0M608.05 130.98h0M610.87 126.12h0M611.54 130.9h0M608.52 135.81h0M607.42 113.92h0M610.09 143.54h0M611.22 135.5h0M618.65 130.35h0M613.35 119.8h0M616.29 119.3h0M607.95 118.46h0M616.06 130.49h0M602 146.71h0M610.13 137.89h0M608.48 116.83h0M613.52 137.49h0M601.98 151.08h0M608.8 128.85h0M616.19 115.99h0M609.98 122.98h0M606.15 123.92h0M609.66 127.23h0M604.45 110.6h0M608.24 126.31h0M612.58 136.28h0M615.43 132.07h0M608.88 135.9h0M609.32 134.25h0M611.29 131.13h0M611.17 130.08h0M610.39 135.92h0M603.51 147.58h0M608.55 124.85h0M606.87 128.94h0M612.26 119.39h0M606.71 141.78h0M609.05 141.09h0M610.02 114.99h0M612.59 124.05h0M619 120.14h0M615.32 128.22h0M616.36 109.31h0M612.32 126.18h0M613.94 121.31h0M607.11 149.88h0M614.63 130.46h0M613.02 120.84h0M607.37 125.97h0M621.74 128.67h0M611.26 128.24h0M608.84 134.81h0M616.61 114.84h0M607.34 132.88h0M604.26 115.79h0M611.84 120.03h0M611.23 132.73h0M617.43 124.8h0M609.56 131.37h0M604.45 142.73h0M606.96 134.35h0M607.45 130.34h0M607.72 139.65h0M612.39 123.82h0M613.36 130.37h0M610.52 124.09h0M607.62 125.73h0M608.09 143.28h0M618.21 123.82h0M616.81 116.96h0M608.39 132.36h0M614.46 123.53h0M608.06 123.26h0M608.4 121.03h0M616.14 134.64h0M614.92 121.53h0M609.83 132.87h0M606.5 129.75h0M614.27 128.69h0M608.63 124.45h0M608.69 146.04h0M610.4 139.4h0M612.84 124.49h0M609.43 129.09h0M610.74 123.83h0M609.56 118.25h0M613.92 131.23h0M612.37 146.5h0M610.95 124.41h0M605.97 125.81h0M609.87 124.44h0M609.55 115.1h0M612.38 142.25h0M608.26 140.72h0M613.77 130.05h0M616.08 135.14h0M612.21 129.11h0M612.53 129.22h0M609.03 126.01h0M606 142.01h0M610.88 134.52h0M611.84 134.31h0M611.67 133.27h0M615.69 126.13h0M619.56 137.45h0M615.72 147.03h0M618.36 117.95h0M607.32 131.51h0M611.71 140.27h0M610.64 141.92h0M613.4 133.66h0M616.52 123.49h0M608.17 134.43h0M618.67 127.15h0M606.33 138.35h0M615.96 124.53h0M613.86 132.05h0M608.07 140.15h0M607.95 129.05h0M609.45 122.45h0M607.74 137.92h0M610.03 124h0M608.17 137.19h0M607.36 146.85h0M620.51 121.54h0M608.9 130.72h0M616.78 123.89h0M610.48 137.15h0M607.42 123.07h0M609.08 145.33h0M608.16 129.71h0M612.74 129.6h0M619.23 129.54h0M613.53 118.15h0M619.85 111.21h0M607.53 128.28h0M608.07 135.56h0M607.79 126.45h0M610.23 123.51h0M606.28 145.82h0M617.07 124.8h0M606.63 125.66h0M614.63 128.73h0M611.67 125.21h0M610.4 119.62h0M607.24 140.75h0M614.87 125.86h0M606.9 129.77h0M610.33 126.04h0M609.86 140.72h0M608.26 135.91h0M610.01 133.74h0M614.96 118.99h0M612.04 139.2h0M607.76 124.66h0M609.39 123.12h0M608.38 120.7h0M616.57 132.6h0M620.18 126.56h0M614.88 121.13h0M613.63 137.21h0M616.14 122.39h0M617.55 125.96h0M622.53 122.17h0M615.1 119.43h0M615.1 119.84h0M607.16 130.85h0M620.52 136.92h0M610.79 138.59h0M608.76 123.16h0M610.88 123.6h0M610.29 124.4h0M621.37 111.39h0M604.79 122.56h0M607.02 142.67h0M607.56 125.96h0M610.24 132.74h0M598.74 152.59h0M606.51 126.05h0M614.37 114.21h0M609.2 120.13h0M606.37 138.16h0M607.97 126.67h0M607.97 126.57h0M608.86 150.4h0M601.83 153.01h0M609.81 139.94h0M605.68 160.6h0M601.57 148.41h0M599.76 152.22h0M600.64 156.24h0M612.93 146.95h0M607.01 156.29h0M603.08 156.33h0M601.6 150.45h0M600.97 162.13h0M610.58 156.17h0M603.5 152.92h0M607.03 167.19h0M604.32 151.51h0M604.57 159.36h0M605.09 154.66h0M604.22 149.26h0M608.12 151.72h0M607.13 149.73h0M614.96 154.9h0M604.7 167.3h0M612.42 153.22h0M597.6 154.11h0M608.69 154.29h0M604.04 145.31h0M600.85 155.73h0M602.85 152.55h0M601.63 151.51h0M600.45 150.8h0M608.1 154.52h0M607.61 150.19h0M602.71 151.51h0M605.28 145.98h0M609.4 161.66h0M608.5 147.54h0M593.07 156.86h0M600.76 151.45h0M603.04 149.43h0M606.37 149.74h0M605.79 151.1h0M609.29 157.79h0M602.95 154.98h0M603.94 162.38h0M601.43 152.97h0M601.41 152.27h0M605.35 161.77h0M600.81 160.81h0M603.09 149.71h0M607.33 166.39h0M612.35 157.72h0M601.03 164.04h0M605.2 152.8h0M603.06 153.68h0M598.97 155.87h0M604.49 147.49h0M600.73 151.63h0M607.41 146.42h0M605.13 150.26h0M604 157.9h0M605.41 156.37h0M603.64 147.18h0M606.79 147.66h0M609.43 153.97h0M599.57 153.08h0M608.07 157.71h0M602.94 155.94h0M606.12 143.2h0M610.13 144.51h0M607.76 159.64h0M605.83 160.45h0M607.12 146.39h0M603.96 148.98h0M601.28 158.49h0M605.89 152.49h0M605.55 172.98h0M605.87 156.81h0M598.84 153.13h0M604.53 151.11h0M607.91 143.12h0M601.52 151.77h0M608.06 158.53h0M605.34 159.81h0M611.11 154.4h0M593.37 159.41h0M601.05 154.26h0M598.56 151.79h0M597.28 160.75h0M608.02 152.91h0M605.66 145.6h0M604.02 153.23h0M603.93 162.13h0M608.06 143.25h0M602.7 158.75h0M603.99 159.57h0M610.52 144.7h0M603.36 152.86h0M602.47 157.67h0M598.09 155.32h0M600.58 161.9h0M605.29 156.47h0M601.13 153.53h0M598.47 156.27h0M601.04 151.4h0M603.86 157.06h0M600.61 162.4h0M600.78 160.27h0M605.63 151.61h0M601.92 155.05h0M604.04 161.25h0M604.21 151.33h0M604.03 154.53h0M607.43 148.95h0M603.1 159.4h0M600.56 156.03h0M606.74 148.74h0M608.66 156.72h0M608.79 150.07h0M611.07 159.79h0M599.92 161.5h0M597.24 153.3h0M597.87 162.74h0M607.78 155.86h0M602.06 159.82h0M598.24 162.8h0M611.36 150.69h0M611.1 153.9h0M597.24 154.24h0M598.73 154.05h0M609.82 154.22h0M603.3 161.24h0M602.92 155.87h0M603.01 156.25h0M604.57 158.9h0M606.83 156.93h0M605.87 149.86h0M607.81 162.29h0M601.01 159.19h0M612.25 163.32h0M609.05 158.6h0M601.32 147.33h0M604.7 148.41h0M612.22 159.69h0M601.54 153.94h0M603.46 150.22h0M606.39 164.86h0M608.58 153.62h0M604.73 159.45h0M606.06 161.76h0M605.41 146.01h0M605.27 152.59h0M604.41 146.87h0M601.72 153.38h0M602.5 146.96h0M608.96 157.92h0M605.86 155.51h0M607.48 149.85h0M602.96 148.61h0M598.48 155.05h0M601.95 149.72h0M608.52 153.92h0M605.7 155.29h0M602.23 159.89h0M598.5 153.57h0M607.69 154.58h0M594.85 155.04h0M606.8 158.1h0M611.64 153.22h0M608.23 149.16h0M604.73 153.06h0M605.03 145.13h0M602.64 159.24h0M607.79 154.63h0M599.19 156.32h0M608.88 150.01h0M604.64 155.77h0M608.88 149.66h0M607.91 148.26h0M600.58 153.96h0M594.85 158.7h0M606.97 147.63h0M599.1 165.65h0M610.01 150.66h0M601.55 158.8h0M606.24 157.63h0M599.51 155.42h0M606.62 160.73h0M601.14 154.06h0M607.87 159.18h0M606.3 145.12h0M606.64 155.79h0M607.73 156.96h0M608.48 169.05h0M603.18 144.62h0M608.94 146.44h0M600.73 158.37h0M603.72 158.39h0M603.82 145.45h0M600.95 155.35h0M609.51 140.82h0M605.51 161.64h0M602.48 165.58h0M601.78 153.93h0M606.2 155.85h0M608.68 154.61h0M606.91 155.34h0M599.6 155.67h0M607.62 144.61h0M603.79 156.18h0M599.24 150.59h0M605.53 147.57h0M606.47 151.49h0M600.61 151.48h0M605.77 145.04h0M607.35 149.18h0M604.95 151.41h0M602.33 156.16h0M605.61 155.47h0M606.73 151.72h0M605.14 149.97h0M598.92 154.37h0M607.28 148.37h0M605.51 153.89h0M598.76 156.05h0M600.33 161.75h0M609.88 142.13h0M607.09 155.29h0M605.74 155.81h0M603.48 156.83h0M596.32 155.41h0M604.89 155.77h0M612.53 166.81h0M606.11 152.01h0M603.89 155.8h0M609.25 152.9h0M604.63 151.83h0M590.3 113.96h0M612.38 126.55h0M587.02 114.78h0M612.29 134.24h0M602.9 116.89h0M606.82 125.67h0M603.56 119.39h0M602.89 118.46h0M590.22 114.31h0M600.84 117.17h0M597.54 112.73h0M601.52 116.62h0M612.72 117.88h0M601.47 117.96h0M604.19 114.63h0M605.18 121.11h0M606.47 130.03h0M607.88 121.41h0M594.75 115.88h0M612.78 133.97h0M604.95 119.25h0M609.13 117.25h0M605.93 118.95h0M608.06 127.09h0M609.1 128.61h0M601.58 120.85h0M599.21 117.85h0M611.76 132.39h0M610.78 137.74h0M610.81 118.17h0M609.03 139.73h0M593.86 114.5h0M600.18 117.16h0M607.9 137.03h0M602.26 119.51h0M607.94 134.77h0M611.5 133.05h0M598.48 113.54h0M611.41 121.07h0M592.69 115.26h0M606.28 121.22h0M610.17 136.79h0M600.36 110.99h0M606.84 125.65h0M597.61 115.91h0M589.79 109.78h0M598.82 113.4h0M600.61 117.76h0M612.87 124.14h0M590.31 112.09h0M608.48 135.69h0M606.08 120.84h0M595.91 113.45h0M602.03 117.99h0M611.19 125.33h0M596.78 116.19h0M609.43 138.91h0M610.73 127h0M606.29 138.69h0M587.42 112.2h0M603 111.49h0M608.45 128.18h0M606.94 120.38h0M611.03 125.23h0M604.7 117.89h0M592.57 114.43h0M609.64 126.05h0M593.61 113.21h0M601.95 119.18h0M598.51 108.04h0M607.21 121.87h0M605.24 125.31h0M607.84 131.24h0M605.62 117.62h0M598.02 113.51h0M607.37 129.13h0M608.25 130.38h0M589.2 114.44h0M588.71 110.54h0M607.35 123.03h0M605.47 120.71h0M587.56 113.07h0M610.37 126.66h0M608.34 133.85h0M612.23 119.7h0M591.6 113.33h0M608.64 129.28h0M607.85 134.88h0M611.36 137.37h0M612.64 138.83h0M609.39 124.81h0M600.3 118.28h0M604.86 115.13h0M602.43 118.82h0M602.03 113.46h0M589.81 112.13h0M609.18 133.03h0M603.99 123.02h0M604.04 114.24h0M609.73 133.12h0M605.01 122.43h0M599.04 110.76h0M607.67 128.16h0M603.99 123.11h0M609.11 137.84h0M610.44 133.45h0M611.6 133.89h0M608.13 138.48h0M592.35 115.16h0M612.44 136.69h0M606.88 130.54h0M610.06 120.14h0M607.92 135.6h0M590.54 110.49h0M606.81 128.68h0M599.97 113.3h0M603.73 122h0M611.3 135.28h0M611.58 140.86h0M588.07 111.39h0M611.64 140.34h0M607.09 126.24h0M599.23 116.08h0M609.73 136.56h0M605.34 119.07h0M607.46 118.76h0M604.36 114.54h0M603.52 121.14h0M590.64 114.28h0M607.71 137.73h0M612.07 137.56h0M610.66 134.86h0M596.85 114.49h0M588.99 110.56h0M601.26 120.55h0M609.19 137.15h0M598.02 114.19h0M613.41 131.06h0M603.19 112.11h0M599.58 115.32h0M604.15 118.2h0M599.2 112.64h0M608.42 131.71h0M604.08 121.36h0M607.02 126.88h0M606.69 136.59h0M604.96 123.34h0M596.13 117.05h0M591.1 108.36h0M606.95 120.46h0M610.86 128.56h0M598.11 115.76h0M596.81 113.9h0M609.36 125.8h0M606.86 122.97h0M611.78 129.21h0M591.09 112.78h0M608.53 137.24h0M612.35 140.95h0M611.19 134.5h0M604.87 121.84h0M611.69 139.08h0M593.34 111.28h0M611.49 137.16h0M588.26 112.6h0M587.51 113.77h0M608.39 140.12h0M604.8 120.01h0M616.23 139.65h0M610.16 134.5h0M597.3 112.6h0M595.42 115.16h0M595.07 108.57h0M612.57 134.34h0M601.47 110.43h0M610.82 120.05h0M602.01 116.57h0M616.29 123.84h0M593.98 115.49h0M604.1 121.28h0M605.92 139.18h0M599.22 114.9h0M604.72 115.47h0M593.37 110.41h0M603.87 117.34h0M606.81 138.72h0M606.21 127.1h0M609.98 134.38h0M603.56 116.32h0M605.13 117.97h0M611.43 135.17h0M607.21 128.42h0M595.61 115.85h0M607.96 133.96h0M591.21 112.63h0M590.14 114.37h0M607.24 129.07h0M607.64 134.27h0M606.59 138.4h0M606.15 140.03h0M604.64 119.8h0M607.48 124.69h0M605.32 116.62h0M607.42 135.71h0M609.75 132.54h0M607.18 135.79h0M608.07 137.87h0M593.17 115.46h0M612.86 127.33h0M606.16 124.41h0M587.7 112.99h0M606.71 141.17h0M607.19 138.09h0M603.15 118.06h0M606.26 125.3h0M606.58 139.71h0M609.75 139.06h0M591.22 114.82h0M588.14 113.61h0M599.01 113.57h0M608.02 123.9h0M607.44 134.5h0M610.24 126.14h0M593.74 114.25h0M593.5 115.35h0M589.2 112.07h0M591.31 113.46h0M602.09 119.69h0M613.28 138.08h0M608.49 130.94h0M609.72 131.62h0M595.76 115.38h0M607.75 135.07h0M606.63 136.38h0M601.26 116.34h0M608.99 140.69h0M593.07 114.9h0M587.68 112.2h0M607.4 127.4h0M603.14 117.59h0M612.57 125.67h0M597.41 114.01h0M605.32 120.93h0M600.05 116.59h0M608.96 119.75h0M607.15 123.44h0M595.54 114.19h0M606.73 115.85h0M597.22 114.03h0M609.22 118.84h0M611.18 134.1h0M607.39 128.85h0M608.71 124.58h0M611.48 124.42h0M607.65 130.78h0M588.3 111.46h0M593.86 113.98h0M616.72 138.18h0M610.17 129.7h0M610.49 140.25h0M604.35 122.34h0M597.72 114.11h0M602.33 114.84h0M602.43 109.07h0M608.27 129.55h0M604.56 118.58h0M607.13 137.13h0M609.82 125.72h0M607.55 128.69h0M603.42 112.4h0M592.71 111.37h0M602.33 120.86h0M592.21 109.64h0M604.72 123.06h0M605.46 123.85h0M589.88 112.55h0M603.28 118.83h0M605.84 118.33h0M587.07 114.51h0M606 141.38h0M558.11 158.59h0M558.5 134.25h0M566.6 165.06h0M555.54 140.88h0M575.42 173.86h0M558.54 136.87h0M555.79 136.74h0M555.04 142.19h0M552.98 140.24h0M552.54 143.79h0M556.79 152.41h0M552.52 152.19h0M563.45 163.47h0M556.68 142.61h0M558.03 151.78h0M558.31 142.3h0M573.03 172.93h0M575.29 169.34h0M558.46 132.24h0M556.75 153.07h0M559.38 156.13h0M557.79 139.72h0M556.61 159.79h0M558.38 159.85h0M560.09 128.03h0M559.68 154.86h0M558.33 150.14h0M558.35 162.72h0M571.34 168.95h0M556.9 159.62h0M567.01 165.93h0M574.81 169.99h0M550.64 149.94h0M560.49 168.42h0M555.43 156.76h0M555.1 155.59h0M553.38 148.01h0M557.44 138.88h0M562.16 163.03h0M571.84 169.37h0M556.96 137.37h0M565.57 165.61h0M555.81 132.64h0M556.38 149.16h0M577.26 168.08h0M555.56 158.88h0M551.66 142.02h0M567.17 167.8h0M557.38 147.54h0M557.52 155.08h0M558.02 153.66h0M553.15 149.11h0M568.77 169.79h0M566.15 165.82h0M575.24 167.18h0M557.43 131.82h0M575.84 171.11h0M552.57 132.25h0M558.58 135.8h0M562.49 162.49h0M557.24 158.47h0M556.11 140.45h0M553.94 149.47h0M571.66 169.35h0M563.12 162.89h0M555.82 136.18h0M566.87 165.71h0M560.21 158.89h0M560.09 166.77h0M557.81 128.38h0M555.37 137.52h0M557.38 134.17h0M565.69 166.75h0M554.35 154.87h0M559.59 133.49h0M563.28 166.18h0M571.76 170.76h0M551.89 136.58h0M558.07 132.98h0M559.04 134.56h0M557.11 154.55h0M554.3 144.18h0M574.71 171.2h0M554.1 156.42h0M559.17 133.77h0M574.05 167.2h0M567.82 169h0M554.27 140h0M557.65 142.44h0M569.25 165.35h0M557.7 139.83h0M561.05 161.94h0M556.64 157.02h0M552.69 138.45h0M566.24 166.25h0M558.49 136.89h0M557.52 137.58h0M557.18 133.14h0M552.87 148.77h0M558.29 157.13h0M571.57 169.74h0M552.34 148.84h0M559.03 134.99h0M558.07 148.89h0M557.99 138.76h0M562.64 167.47h0M556.29 146.75h0M551.6 135.7h0M561.71 164.06h0M553.84 148.04h0M565.82 165.68h0M568.67 174.46h0M558.12 162.46h0M563.23 163.21h0M567.89 167.56h0M558.82 133.99h0M557.46 129.8h0M565.92 172.58h0M553.01 132.3h0M575.85 170.42h0M554.67 148.72h0M558.93 158.59h0M559.35 136.35h0M575.96 171.2h0M553.84 141.95h0M553.21 130.55h0M557.9 165.04h0M553.72 153.16h0M551.55 142.13h0M558.48 153.67h0M557.64 157.97h0M557.77 142.97h0M562.21 160.15h0M558.81 134.99h0M558.09 159.95h0M557.79 131.3h0M566.53 168.8h0M557.1 148.34h0M556.94 141.34h0M559.88 134.03h0M572.92 170.91h0M555.35 149.8h0M554.93 141.66h0M556.07 139.29h0M564.77 168.71h0M555.69 156.21h0M557 145.66h0M572.31 170.49h0M554.99 158.97h0M568.77 171.66h0M556.35 138.84h0M556.78 136.02h0M560.54 127.29h0M574.72 170.65h0M569.6 169.63h0M560 132.08h0M555.21 133.75h0M565.22 166.06h0M562.35 163.2h0M557.22 141.14h0M562.78 165.07h0M554.61 132.35h0M573.06 170.19h0M558.05 164.06h0M553.84 129.14h0M563.49 162.48h0M557.8 142.74h0M551.88 152.55h0M555.53 156.93h0M558.49 130.44h0M559.18 134.13h0M562.06 170.16h0M558.96 156h0M553.89 137.5h0M557.91 157.91h0M558.89 136.61h0M556.99 133.08h0M560.16 166.59h0M568.23 166.37h0M558.18 131.52h0M550.7 149.72h0M557.97 137.32h0M565.5 169.2h0M560.49 158.77h0M566.29 164.42h0M554.08 141.79h0M560.34 164.46h0M558.51 166.59h0M567.74 169.05h0M552.82 150.56h0M559.52 129.44h0M559.62 155.55h0M557.01 149.94h0M575.07 167.21h0M556.3 135.47h0M560.99 159.78h0M570.12 166.79h0M559.56 127.74h0M556.2 156.25h0M551.22 149.14h0M556.58 147.07h0M557.41 146.26h0M558.46 163.41h0M560.16 158.13h0M565.83 169.57h0M556.89 151.97h0M560.47 156.64h0M563.8 165.45h0M555.97 148.34h0M556.47 139.23h0M572.7 168.37h0M555.96 138.19h0M560.18 154.49h0M555.3 159.49h0M573.53 167.44h0M555.96 140.11h0M555.7 135.44h0M553.97 135.34h0M552.56 160.64h0M556.27 156.15h0M557.34 151.58h0M553.27 128.31h0M557 157.35h0M559.23 151.36h0M569.46 167.36h0M571.69 168.5h0M556.6 140.75h0M553.1 131.11h0M557.79 160.37h0M556.9 158.51h0M550.41 152.57h0M576.48 168.85h0M563.3 161.61h0M559.41 154.71h0M562.59 161.75h0M555.24 135.01h0M558.21 157.47h0M554.99 152.35h0M551.39 141.2h0M555.48 156.67h0M575.11 169.7h0M553.16 149.84h0M553.78 149.27h0M576.72 170.78h0M557.87 150.24h0M569.4 167.99h0M576.89 171.41h0M552.38 135.98h0M567.47 168.12h0M554.4 131.79h0M568.17 168.93h0M556.88 149.19h0M555.52 134.93h0M562.75 161.19h0M556.49 144.85h0M560.93 130.54h0M562.29 158.94h0M555.45 141.46h0M557.97 158.75h0M572.3 173.72h0M556.17 132.87h0M558 157.82h0M560.08 158.66h0M560.56 166.4h0M553.83 144.09h0M552.63 130.16h0M553.07 147.82h0M555.76 139.06h0M557.43 147.57h0M558.76 135.31h0M561.35 164.8h0M557.42 144.89h0M571.96 167.79h0M560.24 161.82h0M552.97 155.73h0M556.49 132.6h0M556.93 131.94h0M576.53 169.84h0M552.56 139.69h0M554.82 143.96h0M570.45 171.97h0M558.88 163.1h0M555.17 138.27h0M557.62 142.03h0M559.11 129.55h0M554.28 149.27h0M554.36 151.83h0M556.08 145.18h0M555.76 151.01h0M558.75 157.56h0M570.51 167.56h0M559.92 156.74h0M559.23 129.71h0M556.23 158.09h0M552.83 143.46h0M555.6 144.76h0M558.04 158h0M561.14 161.98h0M557.54 163.08h0M559.62 128.05h0M555.57 141.45h0M573.6 168.4h0M566.81 167.3h0M561.97 165.43h0M558.33 164.78h0M553.95 157.04h0M557.39 158.49h0M556.69 135.25h0M556.41 163.03h0M560.86 175.77h0M556.88 145.3h0M556.34 141.97h0M553.43 155.13h0M552.07 151.61h0M576.8 171.59h0M558.71 139.68h0M573.33 169.34h0M563.51 171.87h0M557.93 141.06h0M559.06 137.34h0M552.05 136.28h0M557.53 142.84h0M553.63 135.36h0M559.89 130.39h0M558.63 155.61h0M603.06 154.72h0M581.02 172.29h0M596.42 159.4h0M591.98 165.19h0M594.95 160.89h0M602.31 147.78h0M600.51 153.68h0M606.97 149.96h0M593.16 161.95h0M599.16 157.08h0M605.09 145.46h0M593.22 157.2h0M605.92 141.95h0M597.78 154.89h0M586.7 168.17h0M595.95 158.13h0M586.99 172.33h0M604.54 143.43h0M600.11 157.18h0M603.13 148.2h0M585.49 164.47h0M606.25 143.68h0M607.71 140h0M596.62 159.42h0M597.72 156.74h0M595.3 157.74h0M581.24 167.32h0M590.59 164.43h0M580.82 170.19h0M599.67 159.83h0M591.25 160.99h0M579.04 169.75h0M606.06 141.81h0M606.7 144.75h0M579.04 173.42h0M588.18 164.52h0M608.35 142.74h0M595.39 159.99h0M606.75 154.97h0M582.2 165.17h0M602.09 149.4h0M594.59 159.51h0M590.95 164.21h0M596.67 156.93h0M601.7 152.49h0M585.55 166.25h0M600.5 150.47h0M596.88 156.16h0M589.11 164.52h0M604.96 147.29h0M579.48 172.67h0M612.61 141h0M601.82 151.34h0M580.01 167.65h0M582.22 167.23h0M593.55 157.33h0M599.99 149.46h0M603.3 144.43h0M590.64 159.42h0M584.77 168.54h0M607.31 144.48h0M604.11 146.02h0M582.88 166.87h0M586.02 168.84h0M587.71 162.04h0M600.12 152.86h0M602.01 150.94h0M587.37 165.04h0M599.5 151.95h0M600.14 160h0M607.15 145.3h0M590.16 166.39h0M590.89 169.75h0M605.88 142.67h0M579.19 168.32h0M606.47 143.54h0M596.92 154.39h0M602.57 147.06h0M593.71 160.74h0M606.06 146.93h0M586.2 165.97h0M605.77 146.55h0M582.18 166.87h0M580.37 170.4h0M581.05 168.49h0M602.91 147.58h0M578.86 166.5h0M588.28 161.28h0M599.44 151.48h0M607.35 144.53h0M600.27 150.17h0M587.1 166.29h0M589.32 161.43h0M580.08 169.85h0M580.38 166.41h0M592.62 159.47h0M595.38 164.75h0M594.65 159.7h0M604.18 149.03h0M607.06 141.75h0M597.41 155.92h0M609.83 144.13h0M596.33 155.04h0M592.83 158.77h0M583.24 167.64h0M604.28 152.31h0M582.27 166.31h0M600.87 149.95h0M585.01 164.17h0M586.82 164.16h0M600.69 153.03h0M586.56 165.82h0M581.09 169.4h0M605.56 142.91h0M595.9 156.51h0M595.69 159.78h0M595.44 158.93h0M596.97 160.34h0M598.96 150.23h0M605.83 151.02h0M594.64 159.38h0M592.73 158.62h0M593.47 163.09h0M604.28 144.86h0M581.68 168.99h0M605.01 143.41h0M606.72 145.05h0M596.41 154.95h0M602.65 148.53h0M604.74 150.91h0M587.87 164.96h0M580.13 167.65h0M583.38 167.09h0M602.7 148.23h0M584.49 164.37h0M598.25 157.81h0M602.04 149.35h0M603.4 145.05h0M599.77 158.08h0M603.66 147.28h0M607.91 142.47h0M590.9 163.28h0M606.39 144.89h0M577.31 168.32h0M610.87 146.85h0M605.39 146.72h0M594.55 158.99h0M579.56 168.54h0M606.88 143.13h0M566.23 118.86h0M562.69 125.87h0M567.24 117.72h0M562.28 127.4h0M566.05 120.09h0M569.44 117.59h0M579.08 111.96h0M567.18 117.94h0M567.96 119.37h0M568.46 117.95h0M565.51 118.07h0M581.67 110.44h0M577.24 111.34h0M579.13 113.46h0M568.33 115.16h0M577.87 115.36h0M569.76 115.71h0M567.25 117.24h0M561.11 128.78h0M581.27 113.45h0M575.66 113.81h0M561.68 126.18h0M579.53 113.27h0M565.25 121.43h0M575.6 114.59h0M581.45 114.07h0M558.85 127.92h0M581.15 115.35h0M570.36 118.85h0M567.39 118.08h0M560.93 128.39h0M560.97 128.7h0M564.84 121.36h0M565.47 120.63h0M565.15 119.79h0M583.42 112.85h0M561.29 128.47h0M567.88 120.08h0M564.08 120.69h0M580.96 114.52h0M588.28 112.34h0" stroke="#008000" stroke-opacity="0.26" stroke-width="1.1" stroke-linecap="square" fill="none"/>
<path d="M584.5 115.2C586.42 115.13 588.77 115.12 590.9 115.6C593.03 116.08 595.38 116.93 597.3 118.1C599.22 119.27 601.02 120.88 602.4 122.6C603.78 124.32 604.9 126.27 605.6 128.4C606.3 130.53 606.73 133.22 606.6 135.4C606.47 137.58 605.85 139.4 604.8 141.5C603.75 143.6 602.17 145.53 600.3 148C598.43 150.47 596.23 153.67 593.6 156.3C590.97 158.93 587.52 162.05 584.5 163.8C581.48 165.55 578.5 166.8 575.5 166.8C572.5 166.8 568.87 165.43 566.5 163.8C564.13 162.17 562.67 159.88 561.3 157C559.93 154.12 558.58 149.67 558.3 146.5C558.02 143.33 559.07 140.7 559.6 138C560.13 135.3 560.33 132.87 561.5 130.3C562.67 127.73 564.68 124.63 566.6 122.6C568.52 120.57 570.87 119.2 573 118.1C575.13 117 577.48 116.48 579.4 116C581.32 115.52 582.58 115.27 584.5 115.2Z" fill="#aad4aa" stroke="#008000" stroke-width="1.3"/>
<path d="M581.1 124.8C584.25 124.63 588 125.55 590.1 127.6C592.2 129.65 594.38 133.27 593.7 137.1C593.02 140.93 588.85 147.73 586 150.6C583.15 153.47 579.63 154.23 576.6 154.3C573.57 154.37 569.77 153.12 567.8 151C565.83 148.88 564.23 145.33 564.8 141.6C565.37 137.87 568.48 131.4 571.2 128.6C573.92 125.8 577.95 124.97 581.1 124.8Z" fill="#008000" stroke="#008000" stroke-width="0.6"/>
</g>
<line x1="599" y1="108" x2="599" y2="210" stroke="#4682b4" stroke-width="1.3"/>
<line x1="550" y1="145.7" x2="652.5" y2="145.7" stroke="#4682b4" stroke-width="1.3"/>
<circle cx="599" cy="145.7" r="2.6" fill="#4682b4"/>
<line x1="589.4" y1="108" x2="589.4" y2="210" stroke="#ff0000" stroke-width="1.4"/>
<line x1="550" y1="130.7" x2="652.5" y2="130.7" stroke="#ff0000" stroke-width="1.4"/>
<circle cx="589.4" cy="130.7" r="2.8" fill="#ff0000"/>
<path d="M657 209.9H661.12V209.9H665.24V209.8H669.36V209.8H673.48V209.7H677.6V209.6H681.72V209.5H685.84V209.4H689.96V209.2H694.08V208.6H698.2V206.5H702.32V203.4H706.44V199.3H710.56V189H714.68V171.6H718.8V146.2H722.92V126.9H727.04V117.2H731.16V129.3H735.28V154H739.4V181.3H743.52V199.8H747.64V207H751.76V209.1H755.88V209.8H759.2" stroke="#208f20" stroke-width="1.0" fill="none"/>
<line x1="721.8" y1="108" x2="721.8" y2="210" stroke="#4682b4" stroke-width="1.3"/>
<line x1="736.5" y1="108" x2="736.5" y2="210" stroke="#ff0000" stroke-width="1.4"/>
<rect x="550" y="0.4" width="102.5" height="102" fill="none" stroke="#333" stroke-width="1.0"/>
<rect x="550" y="108" width="102.5" height="102" fill="none" stroke="#333" stroke-width="1.0"/>
<rect x="657.4" y="108" width="101.8" height="102" fill="none" stroke="#333" stroke-width="1.0"/>
<path d="M560.3 102.4v2.8M586.2 102.4v2.8M612 102.4v2.8M637.8 102.4v2.8" stroke="#333" stroke-width="0.9" fill="none"/>
<path d="M560.3 210v2.8M586.2 210v2.8M612 210v2.8M637.8 210v2.8" stroke="#333" stroke-width="0.9" fill="none"/>
<path d="M667.4 210v2.8M694.5 210v2.8M721.6 210v2.8M748.5 210v2.8" stroke="#333" stroke-width="0.9" fill="none"/>
<path d="M550 15.2h-2.8M550 32.8h-2.8M550 50.3h-2.8M550 67.9h-2.8M550 85.4h-2.8M550 102.4h-2.8" stroke="#333" stroke-width="0.9" fill="none"/>
<path d="M550 118.5h-2.8M550 145.8h-2.8M550 173.1h-2.8M550 200.4h-2.8" stroke="#333" stroke-width="0.9" fill="none"/>
<path d="M657.4 116h-2.8M657.4 134.8h-2.8M657.4 153.6h-2.8M657.4 172.4h-2.8M657.4 191.2h-2.8M657.4 210h-2.8" stroke="#333" stroke-width="0.9" fill="none"/>
<text transform="translate(566.09 218.9) rotate(-45) scale(1.1 1)" text-anchor="end" class="tk">0.8</text>
<text transform="translate(591.99 218.9) rotate(-45) scale(1.1 1)" text-anchor="end" class="tk">1.6</text>
<text transform="translate(617.79 218.9) rotate(-45) scale(1.1 1)" text-anchor="end" class="tk">2.4</text>
<text transform="translate(643.59 218.9) rotate(-45) scale(1.1 1)" text-anchor="end" class="tk">3.2</text>
<text transform="translate(670.72 218.9) rotate(-45) scale(1.1 1)" text-anchor="end" class="tk">8</text>
<text transform="translate(699.46 218.9) rotate(-45) scale(1.1 1)" text-anchor="end" class="tk">10</text>
<text transform="translate(726.56 218.9) rotate(-45) scale(1.1 1)" text-anchor="end" class="tk">12</text>
<text transform="translate(753.46 218.9) rotate(-45) scale(1.1 1)" text-anchor="end" class="tk">14</text>
<text transform="translate(544 119.8) rotate(-45) scale(1.1 1)" text-anchor="end" class="tk">14</text>
<text transform="translate(544 147.1) rotate(-45) scale(1.1 1)" text-anchor="end" class="tk">12</text>
<text transform="translate(544 174.4) rotate(-45) scale(1.1 1)" text-anchor="end" class="tk">10</text>
<text transform="translate(544 201.7) rotate(-45) scale(1.1 1)" text-anchor="end" class="tk">8</text>
<text x="601.25" y="239.4" text-anchor="middle" class="ax">μ</text>
<text x="0" y="0" transform="translate(528 159.8) rotate(-90) scale(1.1 1)" text-anchor="middle" class="ax2">Δ<tspan font-style="italic">t</tspan></text>
<text x="596.2" y="263.40000000000003" class="cap"><tspan class="par">(</tspan>c<tspan class="par">)</tspan></text>
<text x="617.4" y="263.1" class="cap mu">μ</text>
<text x="625.2" y="264.3" class="sub">true</text>
<path d="M649.4 258.5h9M649.4 261.3h9" stroke="#222" stroke-width="0.75" fill="none"/>
<text x="679.2" y="263.1" class="cap" text-anchor="end">2.0</text>
</svg>
</body></html>
